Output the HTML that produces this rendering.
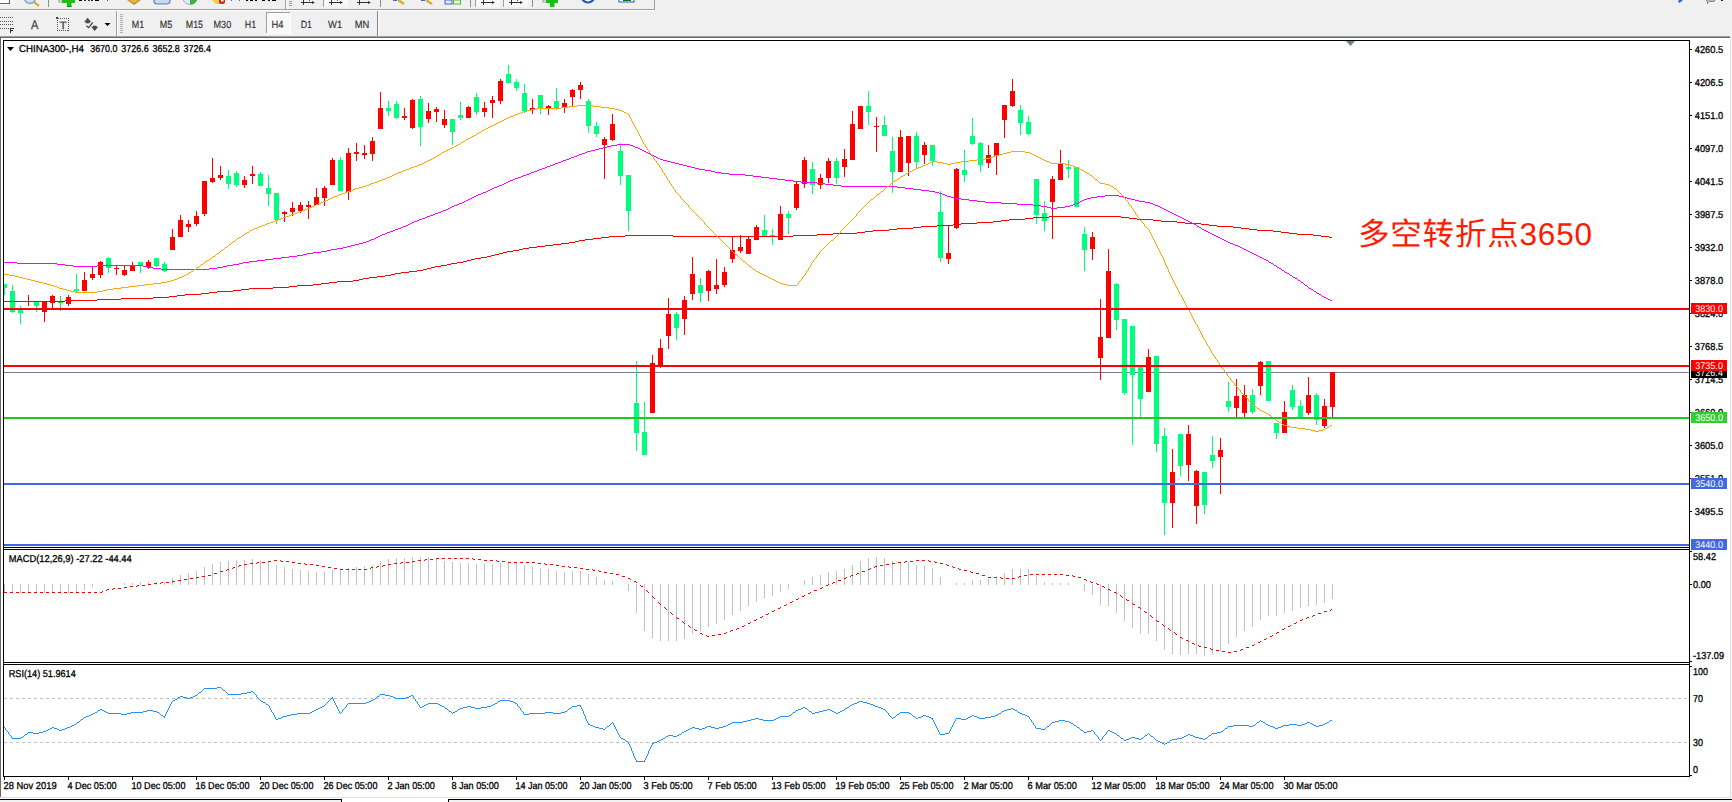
<!DOCTYPE html>
<html lang="zh"><head><meta charset="utf-8"><title>CHINA300-,H4</title>
<style>html,body{margin:0;padding:0;background:#f0f0f0;overflow:hidden}body{width:1732px;height:802px;position:relative}svg{position:absolute;left:0;top:0;display:block}text{font-family:"Liberation Sans","Noto Sans CJK SC",sans-serif;text-rendering:geometricPrecision}</style>
</head><body>
<svg width="1732" height="802" viewBox="0 0 1732 802">
<rect x="0" y="0" width="1732" height="802" fill="#f0f0f0" />
<rect x="1" y="38" width="1729" height="760" fill="#ffffff" />
<rect x="0" y="36" width="1731" height="1" fill="#a0a0a0" />
<rect x="0" y="37" width="1731" height="1" fill="#696969" />
<rect x="0" y="38" width="1" height="760" fill="#696969" />
<rect x="1730" y="36" width="1" height="766" fill="#e3e3e3" />
<rect x="1731" y="36" width="1" height="766" fill="#f5f5f5" />
<rect x="0" y="797" width="1731" height="1" fill="#e3e3e3" />
<rect x="0" y="798" width="1730" height="4" fill="#ffffff" />
<rect x="0" y="799" width="342" height="1" fill="#000" />
<rect x="341" y="799" width="1" height="3" fill="#000" />
<rect x="448" y="799" width="1284" height="1" fill="#000" />
<rect x="448" y="799" width="1" height="3" fill="#000" />
<rect x="0" y="800" width="341" height="2" fill="#f0f0f0" />
<rect x="449" y="800" width="1283" height="2" fill="#f0f0f0" />
<g shape-rendering="crispEdges">
<rect x="3" y="40" width="1687" height="1" fill="#000" />
<rect x="3" y="40" width="1" height="737" fill="#000" />
<rect x="1689" y="40" width="1" height="737" fill="#000" />
<rect x="3" y="776" width="1687" height="1" fill="#000" />
<rect x="3" y="547" width="1687" height="1" fill="#000" />
<rect x="3" y="549" width="1687" height="1" fill="#000" />
<rect x="3" y="662" width="1687" height="1" fill="#000" />
<rect x="3" y="664" width="1687" height="1" fill="#000" />
<rect x="4" y="548" width="1685" height="1" fill="#fff" />
<rect x="4" y="663" width="1685" height="1" fill="#fff" />
<rect x="4" y="584" width="1" height="9" fill="#c0c0c0" />
<rect x="12" y="584" width="1" height="9" fill="#c0c0c0" />
<rect x="20" y="584" width="1" height="9" fill="#c0c0c0" />
<rect x="28" y="584" width="1" height="9" fill="#c0c0c0" />
<rect x="36" y="584" width="1" height="9" fill="#c0c0c0" />
<rect x="44" y="584" width="1" height="9" fill="#c0c0c0" />
<rect x="52" y="584" width="1" height="9" fill="#c0c0c0" />
<rect x="60" y="584" width="1" height="9" fill="#c0c0c0" />
<rect x="68" y="584" width="1" height="9" fill="#c0c0c0" />
<rect x="76" y="584" width="1" height="8" fill="#c0c0c0" />
<rect x="84" y="584" width="1" height="6" fill="#c0c0c0" />
<rect x="92" y="584" width="1" height="3" fill="#c0c0c0" />
<rect x="124" y="583" width="1" height="2" fill="#c0c0c0" />
<rect x="132" y="583" width="1" height="2" fill="#c0c0c0" />
<rect x="140" y="582" width="1" height="3" fill="#c0c0c0" />
<rect x="148" y="582" width="1" height="3" fill="#c0c0c0" />
<rect x="156" y="582" width="1" height="3" fill="#c0c0c0" />
<rect x="164" y="582" width="1" height="3" fill="#c0c0c0" />
<rect x="172" y="578" width="1" height="7" fill="#c0c0c0" />
<rect x="180" y="575" width="1" height="10" fill="#c0c0c0" />
<rect x="188" y="573" width="1" height="12" fill="#c0c0c0" />
<rect x="196" y="571" width="1" height="14" fill="#c0c0c0" />
<rect x="204" y="567" width="1" height="18" fill="#c0c0c0" />
<rect x="212" y="564" width="1" height="21" fill="#c0c0c0" />
<rect x="220" y="562" width="1" height="23" fill="#c0c0c0" />
<rect x="228" y="561" width="1" height="24" fill="#c0c0c0" />
<rect x="236" y="560" width="1" height="25" fill="#c0c0c0" />
<rect x="244" y="560" width="1" height="25" fill="#c0c0c0" />
<rect x="252" y="559" width="1" height="26" fill="#c0c0c0" />
<rect x="260" y="560" width="1" height="25" fill="#c0c0c0" />
<rect x="268" y="562" width="1" height="23" fill="#c0c0c0" />
<rect x="276" y="565" width="1" height="20" fill="#c0c0c0" />
<rect x="284" y="567" width="1" height="18" fill="#c0c0c0" />
<rect x="292" y="569" width="1" height="16" fill="#c0c0c0" />
<rect x="300" y="570" width="1" height="15" fill="#c0c0c0" />
<rect x="308" y="571" width="1" height="14" fill="#c0c0c0" />
<rect x="316" y="572" width="1" height="13" fill="#c0c0c0" />
<rect x="324" y="572" width="1" height="13" fill="#c0c0c0" />
<rect x="332" y="570" width="1" height="15" fill="#c0c0c0" />
<rect x="340" y="569" width="1" height="16" fill="#c0c0c0" />
<rect x="348" y="568" width="1" height="17" fill="#c0c0c0" />
<rect x="356" y="567" width="1" height="18" fill="#c0c0c0" />
<rect x="364" y="566" width="1" height="19" fill="#c0c0c0" />
<rect x="372" y="565" width="1" height="20" fill="#c0c0c0" />
<rect x="380" y="561" width="1" height="24" fill="#c0c0c0" />
<rect x="388" y="559" width="1" height="26" fill="#c0c0c0" />
<rect x="396" y="558" width="1" height="27" fill="#c0c0c0" />
<rect x="404" y="558" width="1" height="27" fill="#c0c0c0" />
<rect x="412" y="557" width="1" height="28" fill="#c0c0c0" />
<rect x="420" y="557" width="1" height="28" fill="#c0c0c0" />
<rect x="428" y="557" width="1" height="28" fill="#c0c0c0" />
<rect x="436" y="559" width="1" height="26" fill="#c0c0c0" />
<rect x="444" y="561" width="1" height="24" fill="#c0c0c0" />
<rect x="452" y="562" width="1" height="23" fill="#c0c0c0" />
<rect x="460" y="563" width="1" height="22" fill="#c0c0c0" />
<rect x="468" y="563" width="1" height="22" fill="#c0c0c0" />
<rect x="476" y="564" width="1" height="21" fill="#c0c0c0" />
<rect x="484" y="564" width="1" height="21" fill="#c0c0c0" />
<rect x="492" y="564" width="1" height="21" fill="#c0c0c0" />
<rect x="500" y="563" width="1" height="22" fill="#c0c0c0" />
<rect x="508" y="562" width="1" height="23" fill="#c0c0c0" />
<rect x="516" y="563" width="1" height="22" fill="#c0c0c0" />
<rect x="524" y="565" width="1" height="20" fill="#c0c0c0" />
<rect x="532" y="567" width="1" height="18" fill="#c0c0c0" />
<rect x="540" y="568" width="1" height="17" fill="#c0c0c0" />
<rect x="548" y="569" width="1" height="16" fill="#c0c0c0" />
<rect x="556" y="571" width="1" height="14" fill="#c0c0c0" />
<rect x="564" y="572" width="1" height="13" fill="#c0c0c0" />
<rect x="572" y="571" width="1" height="14" fill="#c0c0c0" />
<rect x="580" y="571" width="1" height="14" fill="#c0c0c0" />
<rect x="588" y="574" width="1" height="11" fill="#c0c0c0" />
<rect x="596" y="577" width="1" height="8" fill="#c0c0c0" />
<rect x="604" y="580" width="1" height="5" fill="#c0c0c0" />
<rect x="612" y="581" width="1" height="4" fill="#c0c0c0" />
<rect x="628" y="584" width="1" height="7" fill="#c0c0c0" />
<rect x="636" y="584" width="1" height="29" fill="#c0c0c0" />
<rect x="644" y="584" width="1" height="47" fill="#c0c0c0" />
<rect x="652" y="584" width="1" height="54" fill="#c0c0c0" />
<rect x="660" y="584" width="1" height="57" fill="#c0c0c0" />
<rect x="668" y="584" width="1" height="57" fill="#c0c0c0" />
<rect x="676" y="584" width="1" height="57" fill="#c0c0c0" />
<rect x="684" y="584" width="1" height="55" fill="#c0c0c0" />
<rect x="692" y="584" width="1" height="50" fill="#c0c0c0" />
<rect x="700" y="584" width="1" height="47" fill="#c0c0c0" />
<rect x="708" y="584" width="1" height="43" fill="#c0c0c0" />
<rect x="716" y="584" width="1" height="40" fill="#c0c0c0" />
<rect x="724" y="584" width="1" height="36" fill="#c0c0c0" />
<rect x="732" y="584" width="1" height="31" fill="#c0c0c0" />
<rect x="740" y="584" width="1" height="27" fill="#c0c0c0" />
<rect x="748" y="584" width="1" height="22" fill="#c0c0c0" />
<rect x="756" y="584" width="1" height="18" fill="#c0c0c0" />
<rect x="764" y="584" width="1" height="14" fill="#c0c0c0" />
<rect x="772" y="584" width="1" height="12" fill="#c0c0c0" />
<rect x="780" y="584" width="1" height="8" fill="#c0c0c0" />
<rect x="788" y="584" width="1" height="5" fill="#c0c0c0" />
<rect x="804" y="580" width="1" height="5" fill="#c0c0c0" />
<rect x="812" y="577" width="1" height="8" fill="#c0c0c0" />
<rect x="820" y="575" width="1" height="10" fill="#c0c0c0" />
<rect x="828" y="572" width="1" height="13" fill="#c0c0c0" />
<rect x="836" y="571" width="1" height="14" fill="#c0c0c0" />
<rect x="844" y="569" width="1" height="16" fill="#c0c0c0" />
<rect x="852" y="565" width="1" height="20" fill="#c0c0c0" />
<rect x="860" y="561" width="1" height="24" fill="#c0c0c0" />
<rect x="868" y="558" width="1" height="27" fill="#c0c0c0" />
<rect x="876" y="557" width="1" height="28" fill="#c0c0c0" />
<rect x="884" y="558" width="1" height="27" fill="#c0c0c0" />
<rect x="892" y="561" width="1" height="24" fill="#c0c0c0" />
<rect x="900" y="562" width="1" height="23" fill="#c0c0c0" />
<rect x="908" y="562" width="1" height="23" fill="#c0c0c0" />
<rect x="916" y="565" width="1" height="20" fill="#c0c0c0" />
<rect x="924" y="566" width="1" height="19" fill="#c0c0c0" />
<rect x="932" y="568" width="1" height="17" fill="#c0c0c0" />
<rect x="940" y="577" width="1" height="8" fill="#c0c0c0" />
<rect x="956" y="583" width="1" height="2" fill="#c0c0c0" />
<rect x="964" y="583" width="1" height="2" fill="#c0c0c0" />
<rect x="972" y="580" width="1" height="5" fill="#c0c0c0" />
<rect x="980" y="580" width="1" height="5" fill="#c0c0c0" />
<rect x="988" y="579" width="1" height="6" fill="#c0c0c0" />
<rect x="996" y="578" width="1" height="7" fill="#c0c0c0" />
<rect x="1004" y="573" width="1" height="12" fill="#c0c0c0" />
<rect x="1012" y="569" width="1" height="16" fill="#c0c0c0" />
<rect x="1020" y="569" width="1" height="16" fill="#c0c0c0" />
<rect x="1028" y="569" width="1" height="16" fill="#c0c0c0" />
<rect x="1036" y="576" width="1" height="9" fill="#c0c0c0" />
<rect x="1044" y="582" width="1" height="3" fill="#c0c0c0" />
<rect x="1052" y="583" width="1" height="2" fill="#c0c0c0" />
<rect x="1060" y="583" width="1" height="2" fill="#c0c0c0" />
<rect x="1068" y="583" width="1" height="2" fill="#c0c0c0" />
<rect x="1084" y="584" width="1" height="7" fill="#c0c0c0" />
<rect x="1092" y="584" width="1" height="11" fill="#c0c0c0" />
<rect x="1100" y="584" width="1" height="21" fill="#c0c0c0" />
<rect x="1108" y="584" width="1" height="22" fill="#c0c0c0" />
<rect x="1116" y="584" width="1" height="29" fill="#c0c0c0" />
<rect x="1124" y="584" width="1" height="37" fill="#c0c0c0" />
<rect x="1132" y="584" width="1" height="44" fill="#c0c0c0" />
<rect x="1140" y="584" width="1" height="50" fill="#c0c0c0" />
<rect x="1148" y="584" width="1" height="50" fill="#c0c0c0" />
<rect x="1156" y="584" width="1" height="57" fill="#c0c0c0" />
<rect x="1164" y="584" width="1" height="66" fill="#c0c0c0" />
<rect x="1172" y="584" width="1" height="70" fill="#c0c0c0" />
<rect x="1180" y="584" width="1" height="71" fill="#c0c0c0" />
<rect x="1188" y="584" width="1" height="70" fill="#c0c0c0" />
<rect x="1196" y="584" width="1" height="70" fill="#c0c0c0" />
<rect x="1204" y="584" width="1" height="72" fill="#c0c0c0" />
<rect x="1212" y="584" width="1" height="70" fill="#c0c0c0" />
<rect x="1220" y="584" width="1" height="67" fill="#c0c0c0" />
<rect x="1228" y="584" width="1" height="60" fill="#c0c0c0" />
<rect x="1236" y="584" width="1" height="53" fill="#c0c0c0" />
<rect x="1244" y="584" width="1" height="47" fill="#c0c0c0" />
<rect x="1252" y="584" width="1" height="43" fill="#c0c0c0" />
<rect x="1260" y="584" width="1" height="36" fill="#c0c0c0" />
<rect x="1268" y="584" width="1" height="32" fill="#c0c0c0" />
<rect x="1276" y="584" width="1" height="32" fill="#c0c0c0" />
<rect x="1284" y="584" width="1" height="29" fill="#c0c0c0" />
<rect x="1292" y="584" width="1" height="27" fill="#c0c0c0" />
<rect x="1300" y="584" width="1" height="24" fill="#c0c0c0" />
<rect x="1308" y="584" width="1" height="22" fill="#c0c0c0" />
<rect x="1316" y="584" width="1" height="21" fill="#c0c0c0" />
<rect x="1324" y="584" width="1" height="19" fill="#c0c0c0" />
<rect x="1332" y="584" width="1" height="15" fill="#c0c0c0" />
</g>
<path d="M436 558.5h3M442 558.5h3M448 558.5h3M454 558.5h3M460 558.5h3M466 558.5h3M472 558.5h1M425 559.5h2M430 559.5h3M473 559.5h2M478 559.5h3M274 560.5h3M280 560.5h1M418 560.5h3M424 560.5h1M484 560.5h3M490 560.5h3M496 560.5h1M916 560.5h3M922 560.5h3M928 560.5h1M268 561.5h3M281 561.5h2M286 561.5h3M412 561.5h3M497 561.5h2M502 561.5h3M905 561.5h2M910 561.5h3M929 561.5h2M934 561.5h1M257 562.5h2M262 562.5h3M292 562.5h3M401 562.5h2M406 562.5h3M508 562.5h3M514 562.5h3M520 562.5h3M526 562.5h3M532 562.5h3M898 562.5h3M904 562.5h1M935 562.5h2M250 563.5h3M256 563.5h1M298 563.5h3M304 563.5h1M394 563.5h3M400 563.5h1M538 563.5h3M544 563.5h1M892 563.5h3M940 563.5h3M244 564.5h3M305 564.5h2M310 564.5h3M388 564.5h3M545 564.5h2M550 564.5h3M886 564.5h3M946 564.5h1M239 565.5h2M316 565.5h3M383 565.5h2M556 565.5h3M880 565.5h3M947 565.5h2M238 566.5h1M322 566.5h3M377 566.5h2M382 566.5h1M562 566.5h3M568 566.5h1M875 566.5h2M952 566.5h1M233 567.5h2M328 567.5h3M371 567.5h2M376 567.5h1M569 567.5h2M574 567.5h3M874 567.5h1M953 567.5h2M232 568.5h1M334 568.5h3M370 568.5h1M580 568.5h3M870 568.5h1M958 568.5h1M227 569.5h2M340 569.5h3M346 569.5h3M352 569.5h3M358 569.5h3M364 569.5h3M586 569.5h3M592 569.5h1M868 569.5h2M959 569.5h2M226 570.5h1M593 570.5h2M598 570.5h1M964 570.5h3M220 571.5h3M599 571.5h2M862 571.5h3M970 571.5h1M604 572.5h3M971 572.5h2M214 573.5h3M610 573.5h3M857 573.5h2M976 573.5h3M616 574.5h3M856 574.5h1M1030 574.5h3M1036 574.5h3M1042 574.5h3M1048 574.5h3M1054 574.5h3M1060 574.5h3M208 575.5h3M851 575.5h2M982 575.5h3M1024 575.5h3M1066 575.5h3M1072 575.5h1M202 576.5h3M622 576.5h3M850 576.5h1M1019 576.5h2M1073 576.5h2M196 577.5h3M846 577.5h1M988 577.5h3M994 577.5h3M1000 577.5h1M1018 577.5h1M1078 577.5h3M190 578.5h3M628 578.5h2M844 578.5h2M1001 578.5h2M1006 578.5h3M1012 578.5h3M184 579.5h3M630 579.5h1M1084 579.5h2M178 580.5h3M838 580.5h3M1086 580.5h1M172 581.5h3M634 581.5h2M1090 581.5h1M161 582.5h2M166 582.5h3M636 582.5h1M833 582.5h2M1091 582.5h2M154 583.5h3M160 583.5h1M832 583.5h1M1096 583.5h1M148 584.5h3M828 584.5h1M1097 584.5h2M137 585.5h2M142 585.5h3M640 585.5h1M826 585.5h2M130 586.5h3M136 586.5h1M641 586.5h2M1102 586.5h2M124 587.5h3M822 587.5h1M1104 587.5h1M113 588.5h2M118 588.5h3M820 588.5h2M107 589.5h2M112 589.5h1M1108 589.5h2M106 590.5h1M646 590.5h1M814 590.5h3M1110 590.5h1M102 591.5h1M647 591.5h1M4 592.5h3M10 592.5h3M16 592.5h3M22 592.5h3M28 592.5h3M34 592.5h3M40 592.5h3M46 592.5h3M52 592.5h3M58 592.5h3M64 592.5h3M70 592.5h3M76 592.5h3M82 592.5h3M88 592.5h3M94 592.5h3M100 592.5h2M648 592.5h1M810 592.5h1M1114 592.5h2M808 593.5h2M1116 593.5h1M804 595.5h1M1120 595.5h1M652 596.5h1M802 596.5h2M1121 596.5h1M653 597.5h1M1122 597.5h1M654 598.5h1M798 598.5h1M796 599.5h2M1126 599.5h1M1127 600.5h2M792 601.5h1M658 602.5h1M790 602.5h2M659 603.5h1M1132 603.5h1M660 604.5h1M786 604.5h1M1133 604.5h2M784 605.5h2M664 607.5h1M780 607.5h1M1138 607.5h2M665 608.5h1M778 608.5h2M1140 608.5h1M666 609.5h1M1331 609.5h1M774 610.5h1M1330 610.5h1M772 611.5h2M1144 611.5h1M1324 611.5h3M670 612.5h1M1145 612.5h2M671 613.5h1M768 613.5h1M1318 613.5h3M672 614.5h1M766 614.5h2M1150 615.5h1M1313 615.5h2M762 616.5h1M1151 616.5h1M1312 616.5h1M676 617.5h1M760 617.5h2M1152 617.5h1M1307 617.5h2M677 618.5h2M1306 618.5h1M756 619.5h1M1302 619.5h1M754 620.5h2M1156 620.5h1M1300 620.5h2M682 621.5h1M1157 621.5h2M683 622.5h1M750 622.5h1M1296 622.5h1M684 623.5h1M748 623.5h2M1294 623.5h2M1162 624.5h1M688 625.5h1M744 625.5h1M1163 625.5h1M1290 625.5h1M689 626.5h1M742 626.5h2M1164 626.5h1M1288 626.5h2M690 627.5h1M737 628.5h2M1168 628.5h1M1284 628.5h1M694 629.5h1M736 629.5h1M1169 629.5h1M1282 629.5h2M695 630.5h2M731 630.5h2M1170 630.5h1M730 631.5h1M726 632.5h1M1174 632.5h1M1277 632.5h2M700 633.5h2M724 633.5h2M1175 633.5h1M1276 633.5h1M702 634.5h1M718 634.5h3M1176 634.5h1M706 635.5h1M712 635.5h3M1272 635.5h1M707 636.5h2M1270 636.5h2M1180 637.5h2M1182 638.5h1M1266 638.5h1M1264 639.5h2M1186 640.5h2M1188 641.5h1M1260 641.5h1M1258 642.5h2M1192 643.5h2M1194 644.5h1M1254 644.5h1M1198 645.5h1M1252 645.5h2M1199 646.5h2M1204 647.5h3M1246 647.5h3M1210 648.5h1M1211 649.5h2M1241 649.5h2M1216 650.5h3M1240 650.5h1M1222 651.5h3M1234 651.5h3M1228 652.5h3" fill="none" stroke="#ff0000" stroke-width="1" shape-rendering="crispEdges"/>
<g shape-rendering="crispEdges">
<line x1="4" y1="698.5" x2="1689" y2="698.5" stroke="#c0c0c0" stroke-width="1" stroke-dasharray="3,3"/>
<line x1="4" y1="742.5" x2="1689" y2="742.5" stroke="#c0c0c0" stroke-width="1" stroke-dasharray="3,3"/>
</g>
<path d="M217 687.5h4M204 688.5h13M221 688.5h1M203 689.5h1M222 689.5h1M202 690.5h1M223 690.5h2M201 691.5h1M225 691.5h1M251 691.5h2M199 692.5h2M226 692.5h1M247 692.5h4M253 692.5h1M198 693.5h1M227 693.5h1M241 693.5h6M254 693.5h1M197 694.5h1M228 694.5h13M255 694.5h1M380 694.5h5M195 695.5h2M256 695.5h1M379 695.5h1M385 695.5h5M411 695.5h2M180 696.5h3M193 696.5h2M256 696.5h1M377 696.5h2M390 696.5h3M409 696.5h2M413 696.5h1M178 697.5h2M183 697.5h4M190 697.5h3M257 697.5h1M332 697.5h1M376 697.5h1M393 697.5h2M406 697.5h3M413 697.5h1M177 698.5h1M187 698.5h3M258 698.5h1M331 698.5h2M375 698.5h1M395 698.5h11M414 698.5h1M175 699.5h2M259 699.5h1M330 699.5h1M333 699.5h1M373 699.5h2M415 699.5h1M173 700.5h2M260 700.5h1M329 700.5h1M333 700.5h1M371 700.5h2M415 700.5h1M500 700.5h10M172 701.5h1M261 701.5h2M328 701.5h1M334 701.5h1M369 701.5h2M416 701.5h1M498 701.5h2M510 701.5h3M859 701.5h4M171 702.5h1M263 702.5h2M327 702.5h1M334 702.5h1M366 702.5h3M417 702.5h1M497 702.5h1M513 702.5h2M857 702.5h2M863 702.5h4M171 703.5h1M265 703.5h1M326 703.5h1M335 703.5h1M348 703.5h18M417 703.5h1M428 703.5h10M495 703.5h2M515 703.5h2M854 703.5h3M867 703.5h3M170 704.5h1M266 704.5h2M325 704.5h1M335 704.5h1M347 704.5h1M418 704.5h1M426 704.5h2M438 704.5h2M493 704.5h2M517 704.5h1M852 704.5h2M870 704.5h3M170 705.5h1M268 705.5h1M324 705.5h1M336 705.5h1M346 705.5h1M419 705.5h1M424 705.5h2M440 705.5h2M491 705.5h2M517 705.5h1M577 705.5h4M850 705.5h2M873 705.5h2M169 706.5h1M269 706.5h1M322 706.5h2M336 706.5h1M346 706.5h1M419 706.5h1M422 706.5h2M442 706.5h2M467 706.5h4M487 706.5h4M518 706.5h1M572 706.5h5M580 706.5h1M849 706.5h1M875 706.5h3M169 707.5h1M269 707.5h1M320 707.5h2M337 707.5h1M345 707.5h1M420 707.5h2M444 707.5h1M463 707.5h4M471 707.5h4M481 707.5h6M519 707.5h1M571 707.5h1M581 707.5h1M803 707.5h2M847 707.5h2M878 707.5h3M168 708.5h1M270 708.5h1M318 708.5h2M337 708.5h1M344 708.5h1M445 708.5h2M460 708.5h3M475 708.5h6M520 708.5h1M569 708.5h2M581 708.5h1M801 708.5h2M805 708.5h2M845 708.5h2M881 708.5h2M1011 708.5h2M100 709.5h2M168 709.5h1M270 709.5h1M316 709.5h2M338 709.5h1M343 709.5h1M447 709.5h1M458 709.5h2M520 709.5h1M568 709.5h1M582 709.5h1M798 709.5h3M807 709.5h1M827 709.5h3M844 709.5h1M883 709.5h2M1007 709.5h4M1013 709.5h2M98 710.5h2M102 710.5h2M147 710.5h6M167 710.5h1M271 710.5h1M314 710.5h2M338 710.5h1M342 710.5h1M448 710.5h1M457 710.5h1M521 710.5h1M567 710.5h1M582 710.5h1M796 710.5h2M808 710.5h1M823 710.5h4M830 710.5h2M842 710.5h2M885 710.5h1M1004 710.5h3M1015 710.5h2M97 711.5h1M104 711.5h2M143 711.5h4M153 711.5h4M167 711.5h1M271 711.5h1M312 711.5h2M339 711.5h1M342 711.5h1M449 711.5h2M455 711.5h2M522 711.5h1M565 711.5h2M583 711.5h1M795 711.5h1M809 711.5h2M819 711.5h4M832 711.5h2M840 711.5h2M886 711.5h1M1002 711.5h2M1017 711.5h1M95 712.5h2M106 712.5h2M131 712.5h12M157 712.5h2M166 712.5h1M272 712.5h1M310 712.5h2M339 712.5h1M341 712.5h1M451 712.5h1M453 712.5h2M523 712.5h1M545 712.5h8M561 712.5h4M583 712.5h1M793 712.5h2M811 712.5h1M815 712.5h4M834 712.5h2M838 712.5h2M887 712.5h1M900 712.5h9M1001 712.5h1M1018 712.5h2M93 713.5h2M108 713.5h13M127 713.5h4M159 713.5h1M166 713.5h1M273 713.5h1M297 713.5h13M340 713.5h1M452 713.5h1M523 713.5h1M529 713.5h16M553 713.5h8M583 713.5h1M792 713.5h1M812 713.5h3M836 713.5h2M888 713.5h1M899 713.5h1M909 713.5h2M999 713.5h2M1020 713.5h2M91 714.5h2M121 714.5h6M160 714.5h1M165 714.5h1M273 714.5h1M291 714.5h6M524 714.5h5M584 714.5h1M791 714.5h1M888 714.5h1M897 714.5h2M911 714.5h1M997 714.5h2M1022 714.5h3M89 715.5h2M161 715.5h2M165 715.5h1M274 715.5h1M287 715.5h4M584 715.5h1M789 715.5h2M889 715.5h1M896 715.5h1M912 715.5h1M923 715.5h3M972 715.5h2M995 715.5h2M1025 715.5h2M86 716.5h3M163 716.5h2M274 716.5h1M283 716.5h4M585 716.5h1M780 716.5h9M890 716.5h1M895 716.5h1M913 716.5h2M921 716.5h2M926 716.5h3M970 716.5h2M974 716.5h3M991 716.5h4M1027 716.5h2M84 717.5h2M164 717.5h1M275 717.5h1M281 717.5h2M585 717.5h1M778 717.5h2M891 717.5h1M893 717.5h2M915 717.5h1M918 717.5h3M929 717.5h2M968 717.5h2M977 717.5h2M985 717.5h6M1029 717.5h1M83 718.5h1M275 718.5h1M278 718.5h3M585 718.5h1M755 718.5h4M776 718.5h2M892 718.5h1M916 718.5h2M931 718.5h2M956 718.5h5M966 718.5h2M979 718.5h6M1029 718.5h1M81 719.5h2M276 719.5h2M586 719.5h1M751 719.5h4M759 719.5h4M774 719.5h2M932 719.5h1M955 719.5h1M961 719.5h5M1030 719.5h1M80 720.5h1M586 720.5h1M747 720.5h4M763 720.5h11M933 720.5h1M955 720.5h1M1031 720.5h1M1059 720.5h6M1260 720.5h1M1330 720.5h2M79 721.5h1M587 721.5h1M743 721.5h4M933 721.5h1M954 721.5h1M1031 721.5h1M1055 721.5h4M1065 721.5h4M1259 721.5h1M1261 721.5h2M1329 721.5h1M77 722.5h2M587 722.5h1M612 722.5h1M732 722.5h11M934 722.5h1M954 722.5h1M1032 722.5h1M1052 722.5h3M1069 722.5h2M1257 722.5h2M1263 722.5h2M1307 722.5h3M1327 722.5h2M76 723.5h1M588 723.5h1M611 723.5h1M613 723.5h1M730 723.5h2M934 723.5h1M953 723.5h1M1033 723.5h1M1051 723.5h1M1071 723.5h2M1256 723.5h1M1265 723.5h1M1305 723.5h2M1310 723.5h2M1325 723.5h2M74 724.5h2M588 724.5h2M610 724.5h1M613 724.5h1M728 724.5h2M935 724.5h1M953 724.5h1M1033 724.5h1M1050 724.5h1M1073 724.5h1M1255 724.5h1M1266 724.5h2M1289 724.5h8M1302 724.5h3M1312 724.5h2M1323 724.5h2M72 725.5h2M590 725.5h3M609 725.5h1M614 725.5h1M726 725.5h2M935 725.5h1M952 725.5h1M1034 725.5h1M1049 725.5h1M1074 725.5h2M1233 725.5h16M1253 725.5h2M1268 725.5h2M1283 725.5h6M1297 725.5h5M1314 725.5h2M1319 725.5h4M70 726.5h2M593 726.5h2M607 726.5h2M614 726.5h1M707 726.5h4M723 726.5h3M936 726.5h1M952 726.5h1M1035 726.5h1M1047 726.5h2M1076 726.5h1M1228 726.5h5M1249 726.5h4M1270 726.5h3M1281 726.5h2M1316 726.5h3M4 727.5h1M52 727.5h2M67 727.5h3M595 727.5h4M606 727.5h1M615 727.5h1M692 727.5h3M705 727.5h2M711 727.5h4M719 727.5h4M936 727.5h1M951 727.5h1M1035 727.5h1M1046 727.5h1M1077 727.5h2M1227 727.5h1M1273 727.5h2M1278 727.5h3M5 728.5h1M50 728.5h2M54 728.5h3M65 728.5h2M599 728.5h4M605 728.5h1M615 728.5h1M690 728.5h2M695 728.5h4M702 728.5h3M715 728.5h4M937 728.5h1M951 728.5h1M1036 728.5h5M1045 728.5h1M1079 728.5h1M1225 728.5h2M1275 728.5h3M5 729.5h1M48 729.5h2M57 729.5h2M62 729.5h3M603 729.5h2M616 729.5h1M688 729.5h2M699 729.5h3M937 729.5h1M950 729.5h1M1041 729.5h4M1080 729.5h1M1224 729.5h1M6 730.5h1M46 730.5h2M59 730.5h3M616 730.5h1M686 730.5h2M938 730.5h1M950 730.5h1M1081 730.5h2M1091 730.5h2M1108 730.5h2M1223 730.5h1M7 731.5h1M43 731.5h3M617 731.5h1M684 731.5h2M938 731.5h1M949 731.5h1M1083 731.5h1M1087 731.5h4M1093 731.5h1M1107 731.5h1M1110 731.5h2M1221 731.5h2M8 732.5h1M28 732.5h5M39 732.5h4M617 732.5h1M682 732.5h2M939 732.5h1M949 732.5h1M1084 732.5h3M1094 732.5h1M1106 732.5h1M1112 732.5h2M1217 732.5h4M8 733.5h1M27 733.5h1M33 733.5h6M618 733.5h1M681 733.5h1M939 733.5h1M945 733.5h4M1094 733.5h1M1106 733.5h1M1114 733.5h2M1148 733.5h1M1212 733.5h5M9 734.5h1M25 734.5h2M618 734.5h1M679 734.5h2M940 734.5h5M1095 734.5h1M1105 734.5h1M1116 734.5h1M1147 734.5h1M1149 734.5h1M1188 734.5h2M1211 734.5h1M10 735.5h1M24 735.5h1M619 735.5h1M668 735.5h5M677 735.5h2M1096 735.5h1M1104 735.5h1M1117 735.5h2M1145 735.5h2M1150 735.5h1M1186 735.5h2M1190 735.5h3M1209 735.5h2M11 736.5h1M23 736.5h1M619 736.5h1M666 736.5h2M673 736.5h4M1097 736.5h1M1103 736.5h1M1119 736.5h1M1144 736.5h1M1151 736.5h2M1184 736.5h2M1193 736.5h2M1208 736.5h1M11 737.5h1M21 737.5h2M620 737.5h1M665 737.5h1M1098 737.5h1M1102 737.5h1M1120 737.5h1M1131 737.5h4M1143 737.5h1M1153 737.5h1M1182 737.5h2M1195 737.5h4M1207 737.5h1M12 738.5h9M621 738.5h2M663 738.5h2M1098 738.5h1M1102 738.5h1M1121 738.5h2M1129 738.5h2M1135 738.5h4M1141 738.5h2M1154 738.5h1M1177 738.5h5M1199 738.5h4M1205 738.5h2M623 739.5h2M661 739.5h2M1099 739.5h1M1101 739.5h1M1123 739.5h1M1126 739.5h3M1139 739.5h2M1155 739.5h1M1172 739.5h5M1203 739.5h2M625 740.5h1M659 740.5h2M1100 740.5h1M1124 740.5h2M1156 740.5h2M1170 740.5h2M626 741.5h2M657 741.5h2M1158 741.5h2M1169 741.5h1M628 742.5h1M654 742.5h3M1160 742.5h2M1167 742.5h2M628 743.5h1M652 743.5h2M1162 743.5h2M1165 743.5h2M629 744.5h1M652 744.5h1M1164 744.5h1M629 745.5h1M651 745.5h1M630 746.5h1M651 746.5h1M630 747.5h1M650 747.5h1M631 748.5h1M650 748.5h1M631 749.5h1M649 749.5h1M631 750.5h1M649 750.5h1M632 751.5h1M648 751.5h1M632 752.5h1M648 752.5h1M633 753.5h1M648 753.5h1M633 754.5h1M647 754.5h1M633 755.5h1M647 755.5h1M634 756.5h1M646 756.5h1M634 757.5h1M646 757.5h1M635 758.5h1M645 758.5h1M635 759.5h1M645 759.5h1M636 760.5h1M644 760.5h1M636 761.5h9" fill="none" stroke="#1e90ff" stroke-width="1" shape-rendering="crispEdges"/>
<clipPath id="mc"><rect x="4" y="41" width="1685" height="506"/></clipPath>
<g clip-path="url(#mc)">
<g shape-rendering="crispEdges">
<rect x="4" y="372" width="1685" height="1" fill="#708090" />
<rect x="4" y="284" width="1" height="11" fill="#00ff7f" />
<rect x="2" y="284" width="5" height="4" fill="#00ff7f" />
<rect x="12" y="285" width="1" height="28" fill="#00ff7f" />
<rect x="10" y="291" width="5" height="21" fill="#00ff7f" />
<rect x="20" y="306" width="1" height="18" fill="#00ff7f" />
<rect x="18" y="310" width="5" height="3" fill="#00ff7f" />
<rect x="28" y="295" width="1" height="11" fill="#ff0000" />
<rect x="26" y="301" width="5" height="1" fill="#ff0000" />
<rect x="36" y="302" width="1" height="10" fill="#00ff7f" />
<rect x="34" y="302" width="5" height="4" fill="#00ff7f" />
<rect x="44" y="301" width="1" height="21" fill="#ff0000" />
<rect x="42" y="301" width="5" height="11" fill="#ff0000" />
<rect x="52" y="295" width="1" height="13" fill="#ff0000" />
<rect x="50" y="296" width="5" height="7" fill="#ff0000" />
<rect x="60" y="296" width="1" height="15" fill="#22e022" />
<rect x="58" y="302" width="5" height="1" fill="#22e022" />
<rect x="68" y="295" width="1" height="11" fill="#ff0000" />
<rect x="66" y="297" width="5" height="7" fill="#ff0000" />
<rect x="76" y="274" width="1" height="18" fill="#00ff7f" />
<rect x="74" y="289" width="5" height="2" fill="#00ff7f" />
<rect x="84" y="272" width="1" height="19" fill="#ff0000" />
<rect x="82" y="280" width="5" height="11" fill="#ff0000" />
<rect x="92" y="267" width="1" height="13" fill="#ff0000" />
<rect x="90" y="274" width="5" height="4" fill="#ff0000" />
<rect x="100" y="261" width="1" height="17" fill="#ff0000" />
<rect x="98" y="262" width="5" height="13" fill="#ff0000" />
<rect x="108" y="257" width="1" height="16" fill="#00ff7f" />
<rect x="106" y="258" width="5" height="10" fill="#00ff7f" />
<rect x="116" y="265" width="1" height="10" fill="#ff0000" />
<rect x="114" y="268" width="5" height="1" fill="#ff0000" />
<rect x="124" y="266" width="1" height="10" fill="#ff0000" />
<rect x="122" y="270" width="5" height="5" fill="#ff0000" />
<rect x="132" y="262" width="1" height="9" fill="#ff0000" />
<rect x="130" y="266" width="5" height="5" fill="#ff0000" />
<rect x="140" y="262" width="1" height="11" fill="#00ff7f" />
<rect x="138" y="262" width="5" height="4" fill="#00ff7f" />
<rect x="148" y="260" width="1" height="9" fill="#ff0000" />
<rect x="146" y="262" width="5" height="5" fill="#ff0000" />
<rect x="156" y="258" width="1" height="9" fill="#00ff7f" />
<rect x="154" y="258" width="5" height="8" fill="#00ff7f" />
<rect x="164" y="262" width="1" height="10" fill="#00ff7f" />
<rect x="162" y="264" width="5" height="7" fill="#00ff7f" />
<rect x="172" y="229" width="1" height="21" fill="#ff0000" />
<rect x="170" y="237" width="5" height="13" fill="#ff0000" />
<rect x="180" y="215" width="1" height="22" fill="#ff0000" />
<rect x="178" y="220" width="5" height="17" fill="#ff0000" />
<rect x="188" y="220" width="1" height="12" fill="#ff0000" />
<rect x="186" y="224" width="5" height="3" fill="#ff0000" />
<rect x="196" y="211" width="1" height="15" fill="#ff0000" />
<rect x="194" y="216" width="5" height="8" fill="#ff0000" />
<rect x="204" y="181" width="1" height="35" fill="#ff0000" />
<rect x="202" y="181" width="5" height="33" fill="#ff0000" />
<rect x="212" y="158" width="1" height="25" fill="#ff0000" />
<rect x="210" y="178" width="5" height="4" fill="#ff0000" />
<rect x="220" y="166" width="1" height="14" fill="#ff0000" />
<rect x="218" y="175" width="5" height="3" fill="#ff0000" />
<rect x="228" y="170" width="1" height="19" fill="#00ff7f" />
<rect x="226" y="176" width="5" height="8" fill="#00ff7f" />
<rect x="236" y="171" width="1" height="16" fill="#00ff7f" />
<rect x="234" y="173" width="5" height="12" fill="#00ff7f" />
<rect x="244" y="176" width="1" height="12" fill="#ff0000" />
<rect x="242" y="180" width="5" height="5" fill="#ff0000" />
<rect x="252" y="166" width="1" height="18" fill="#ff0000" />
<rect x="250" y="174" width="5" height="2" fill="#ff0000" />
<rect x="260" y="172" width="1" height="14" fill="#00ff7f" />
<rect x="258" y="174" width="5" height="12" fill="#00ff7f" />
<rect x="268" y="175" width="1" height="31" fill="#00ff7f" />
<rect x="266" y="188" width="5" height="6" fill="#00ff7f" />
<rect x="276" y="193" width="1" height="31" fill="#00ff7f" />
<rect x="274" y="193" width="5" height="27" fill="#00ff7f" />
<rect x="284" y="211" width="1" height="11" fill="#ff0000" />
<rect x="282" y="212" width="5" height="2" fill="#ff0000" />
<rect x="292" y="202" width="1" height="14" fill="#ff0000" />
<rect x="290" y="208" width="5" height="4" fill="#ff0000" />
<rect x="300" y="202" width="1" height="11" fill="#ff0000" />
<rect x="298" y="205" width="5" height="6" fill="#ff0000" />
<rect x="308" y="201" width="1" height="18" fill="#ff0000" />
<rect x="306" y="205" width="5" height="2" fill="#ff0000" />
<rect x="316" y="188" width="1" height="17" fill="#ff0000" />
<rect x="314" y="197" width="5" height="8" fill="#ff0000" />
<rect x="324" y="186" width="1" height="20" fill="#ff0000" />
<rect x="322" y="188" width="5" height="10" fill="#ff0000" />
<rect x="332" y="158" width="1" height="27" fill="#ff0000" />
<rect x="330" y="160" width="5" height="25" fill="#ff0000" />
<rect x="340" y="157" width="1" height="34" fill="#00ff7f" />
<rect x="338" y="160" width="5" height="31" fill="#00ff7f" />
<rect x="348" y="148" width="1" height="52" fill="#ff0000" />
<rect x="346" y="153" width="5" height="39" fill="#ff0000" />
<rect x="356" y="143" width="1" height="18" fill="#ff0000" />
<rect x="354" y="152" width="5" height="2" fill="#ff0000" />
<rect x="364" y="145" width="1" height="14" fill="#ff0000" />
<rect x="362" y="153" width="5" height="2" fill="#ff0000" />
<rect x="372" y="137" width="1" height="24" fill="#ff0000" />
<rect x="370" y="141" width="5" height="13" fill="#ff0000" />
<rect x="380" y="92" width="1" height="37" fill="#ff0000" />
<rect x="378" y="108" width="5" height="21" fill="#ff0000" />
<rect x="388" y="101" width="1" height="15" fill="#00ff7f" />
<rect x="386" y="108" width="5" height="3" fill="#00ff7f" />
<rect x="396" y="101" width="1" height="18" fill="#00ff7f" />
<rect x="394" y="104" width="5" height="14" fill="#00ff7f" />
<rect x="404" y="108" width="1" height="12" fill="#ff0000" />
<rect x="402" y="116" width="5" height="2" fill="#ff0000" />
<rect x="412" y="99" width="1" height="30" fill="#ff0000" />
<rect x="410" y="100" width="5" height="28" fill="#ff0000" />
<rect x="420" y="96" width="1" height="50" fill="#00ff7f" />
<rect x="418" y="99" width="5" height="28" fill="#00ff7f" />
<rect x="428" y="103" width="1" height="20" fill="#ff0000" />
<rect x="426" y="111" width="5" height="8" fill="#ff0000" />
<rect x="436" y="107" width="1" height="15" fill="#ff0000" />
<rect x="434" y="109" width="5" height="3" fill="#ff0000" />
<rect x="444" y="110" width="1" height="18" fill="#ff0000" />
<rect x="442" y="119" width="5" height="6" fill="#ff0000" />
<rect x="452" y="119" width="1" height="26" fill="#00ff7f" />
<rect x="450" y="119" width="5" height="13" fill="#00ff7f" />
<rect x="460" y="102" width="1" height="18" fill="#00ff7f" />
<rect x="458" y="115" width="5" height="3" fill="#00ff7f" />
<rect x="468" y="106" width="1" height="12" fill="#ff0000" />
<rect x="466" y="107" width="5" height="11" fill="#ff0000" />
<rect x="476" y="93" width="1" height="22" fill="#00ff7f" />
<rect x="474" y="97" width="5" height="15" fill="#00ff7f" />
<rect x="484" y="102" width="1" height="15" fill="#ff0000" />
<rect x="482" y="108" width="5" height="4" fill="#ff0000" />
<rect x="492" y="96" width="1" height="22" fill="#ff0000" />
<rect x="490" y="100" width="5" height="3" fill="#ff0000" />
<rect x="500" y="79" width="1" height="25" fill="#ff0000" />
<rect x="498" y="81" width="5" height="20" fill="#ff0000" />
<rect x="508" y="65" width="1" height="18" fill="#00ff7f" />
<rect x="506" y="74" width="5" height="9" fill="#00ff7f" />
<rect x="516" y="79" width="1" height="12" fill="#00ff7f" />
<rect x="514" y="82" width="5" height="6" fill="#00ff7f" />
<rect x="524" y="84" width="1" height="29" fill="#00ff7f" />
<rect x="522" y="93" width="5" height="18" fill="#00ff7f" />
<rect x="532" y="99" width="1" height="15" fill="#ff0000" />
<rect x="530" y="108" width="5" height="2" fill="#ff0000" />
<rect x="540" y="95" width="1" height="19" fill="#00ff7f" />
<rect x="538" y="95" width="5" height="14" fill="#00ff7f" />
<rect x="548" y="105" width="1" height="10" fill="#ff0000" />
<rect x="546" y="106" width="5" height="3" fill="#ff0000" />
<rect x="556" y="88" width="1" height="22" fill="#00ff7f" />
<rect x="554" y="101" width="5" height="8" fill="#00ff7f" />
<rect x="564" y="99" width="1" height="14" fill="#ff0000" />
<rect x="562" y="103" width="5" height="4" fill="#ff0000" />
<rect x="572" y="89" width="1" height="18" fill="#ff0000" />
<rect x="570" y="90" width="5" height="7" fill="#ff0000" />
<rect x="580" y="82" width="1" height="17" fill="#ff0000" />
<rect x="578" y="85" width="5" height="5" fill="#ff0000" />
<rect x="588" y="99" width="1" height="34" fill="#00ff7f" />
<rect x="586" y="101" width="5" height="25" fill="#00ff7f" />
<rect x="596" y="122" width="1" height="15" fill="#00ff7f" />
<rect x="594" y="126" width="5" height="8" fill="#00ff7f" />
<rect x="604" y="137" width="1" height="42" fill="#ff0000" />
<rect x="602" y="139" width="5" height="6" fill="#ff0000" />
<rect x="612" y="114" width="1" height="27" fill="#ff0000" />
<rect x="610" y="124" width="5" height="16" fill="#ff0000" />
<rect x="620" y="143" width="1" height="42" fill="#00ff7f" />
<rect x="618" y="151" width="5" height="25" fill="#00ff7f" />
<rect x="628" y="175" width="1" height="56" fill="#00ff7f" />
<rect x="626" y="175" width="5" height="36" fill="#00ff7f" />
<rect x="636" y="361" width="1" height="90" fill="#00ff7f" />
<rect x="634" y="403" width="5" height="30" fill="#00ff7f" />
<rect x="644" y="402" width="1" height="53" fill="#00ff7f" />
<rect x="642" y="432" width="5" height="23" fill="#00ff7f" />
<rect x="652" y="355" width="1" height="58" fill="#ff0000" />
<rect x="650" y="363" width="5" height="50" fill="#ff0000" />
<rect x="660" y="339" width="1" height="29" fill="#ff0000" />
<rect x="658" y="348" width="5" height="18" fill="#ff0000" />
<rect x="668" y="298" width="1" height="51" fill="#ff0000" />
<rect x="666" y="314" width="5" height="22" fill="#ff0000" />
<rect x="676" y="312" width="1" height="28" fill="#00ff7f" />
<rect x="674" y="314" width="5" height="14" fill="#00ff7f" />
<rect x="684" y="296" width="1" height="39" fill="#ff0000" />
<rect x="682" y="300" width="5" height="19" fill="#ff0000" />
<rect x="692" y="257" width="1" height="43" fill="#ff0000" />
<rect x="690" y="274" width="5" height="20" fill="#ff0000" />
<rect x="700" y="278" width="1" height="24" fill="#00ff7f" />
<rect x="698" y="285" width="5" height="8" fill="#00ff7f" />
<rect x="708" y="270" width="1" height="31" fill="#ff0000" />
<rect x="706" y="271" width="5" height="20" fill="#ff0000" />
<rect x="716" y="259" width="1" height="35" fill="#ff0000" />
<rect x="714" y="285" width="5" height="4" fill="#ff0000" />
<rect x="724" y="267" width="1" height="20" fill="#ff0000" />
<rect x="722" y="272" width="5" height="13" fill="#ff0000" />
<rect x="732" y="237" width="1" height="26" fill="#ff0000" />
<rect x="730" y="250" width="5" height="9" fill="#ff0000" />
<rect x="740" y="235" width="1" height="18" fill="#ff0000" />
<rect x="738" y="247" width="5" height="4" fill="#ff0000" />
<rect x="748" y="237" width="1" height="17" fill="#ff0000" />
<rect x="746" y="239" width="5" height="15" fill="#ff0000" />
<rect x="756" y="225" width="1" height="15" fill="#ff0000" />
<rect x="754" y="227" width="5" height="13" fill="#ff0000" />
<rect x="764" y="215" width="1" height="21" fill="#00ff7f" />
<rect x="762" y="230" width="5" height="6" fill="#00ff7f" />
<rect x="772" y="229" width="1" height="16" fill="#00ff7f" />
<rect x="770" y="235" width="5" height="1" fill="#00ff7f" />
<rect x="780" y="206" width="1" height="34" fill="#ff0000" />
<rect x="778" y="214" width="5" height="26" fill="#ff0000" />
<rect x="788" y="211" width="1" height="23" fill="#00ff7f" />
<rect x="786" y="214" width="5" height="4" fill="#00ff7f" />
<rect x="796" y="181" width="1" height="29" fill="#ff0000" />
<rect x="794" y="184" width="5" height="24" fill="#ff0000" />
<rect x="804" y="157" width="1" height="31" fill="#ff0000" />
<rect x="802" y="160" width="5" height="24" fill="#ff0000" />
<rect x="812" y="162" width="1" height="32" fill="#00ff7f" />
<rect x="810" y="169" width="5" height="16" fill="#00ff7f" />
<rect x="820" y="174" width="1" height="15" fill="#ff0000" />
<rect x="818" y="178" width="5" height="7" fill="#ff0000" />
<rect x="828" y="158" width="1" height="25" fill="#ff0000" />
<rect x="826" y="161" width="5" height="17" fill="#ff0000" />
<rect x="836" y="158" width="1" height="26" fill="#00ff7f" />
<rect x="834" y="161" width="5" height="17" fill="#00ff7f" />
<rect x="844" y="149" width="1" height="28" fill="#ff0000" />
<rect x="842" y="159" width="5" height="8" fill="#ff0000" />
<rect x="852" y="111" width="1" height="49" fill="#ff0000" />
<rect x="850" y="124" width="5" height="36" fill="#ff0000" />
<rect x="860" y="106" width="1" height="23" fill="#ff0000" />
<rect x="858" y="106" width="5" height="23" fill="#ff0000" />
<rect x="868" y="91" width="1" height="34" fill="#00ff7f" />
<rect x="866" y="106" width="5" height="6" fill="#00ff7f" />
<rect x="876" y="117" width="1" height="35" fill="#ff0000" />
<rect x="874" y="126" width="5" height="1" fill="#ff0000" />
<rect x="884" y="116" width="1" height="20" fill="#00ff7f" />
<rect x="882" y="125" width="5" height="11" fill="#00ff7f" />
<rect x="892" y="137" width="1" height="56" fill="#00ff7f" />
<rect x="890" y="151" width="5" height="21" fill="#00ff7f" />
<rect x="900" y="130" width="1" height="42" fill="#ff0000" />
<rect x="898" y="137" width="5" height="35" fill="#ff0000" />
<rect x="908" y="136" width="1" height="40" fill="#ff0000" />
<rect x="906" y="136" width="5" height="27" fill="#ff0000" />
<rect x="916" y="132" width="1" height="37" fill="#00ff7f" />
<rect x="914" y="136" width="5" height="26" fill="#00ff7f" />
<rect x="924" y="142" width="1" height="22" fill="#ff0000" />
<rect x="922" y="145" width="5" height="10" fill="#ff0000" />
<rect x="932" y="145" width="1" height="21" fill="#00ff7f" />
<rect x="930" y="145" width="5" height="16" fill="#00ff7f" />
<rect x="940" y="191" width="1" height="71" fill="#00ff7f" />
<rect x="938" y="212" width="5" height="46" fill="#00ff7f" />
<rect x="948" y="225" width="1" height="39" fill="#ff0000" />
<rect x="946" y="253" width="5" height="6" fill="#ff0000" />
<rect x="956" y="168" width="1" height="61" fill="#ff0000" />
<rect x="954" y="169" width="5" height="59" fill="#ff0000" />
<rect x="964" y="150" width="1" height="32" fill="#00ff7f" />
<rect x="962" y="170" width="5" height="5" fill="#00ff7f" />
<rect x="972" y="118" width="1" height="27" fill="#00ff7f" />
<rect x="970" y="136" width="5" height="8" fill="#00ff7f" />
<rect x="980" y="142" width="1" height="30" fill="#00ff7f" />
<rect x="978" y="143" width="5" height="22" fill="#00ff7f" />
<rect x="988" y="145" width="1" height="23" fill="#ff0000" />
<rect x="986" y="155" width="5" height="8" fill="#ff0000" />
<rect x="996" y="143" width="1" height="32" fill="#ff0000" />
<rect x="994" y="143" width="5" height="13" fill="#ff0000" />
<rect x="1004" y="105" width="1" height="33" fill="#ff0000" />
<rect x="1002" y="105" width="5" height="15" fill="#ff0000" />
<rect x="1012" y="79" width="1" height="28" fill="#ff0000" />
<rect x="1010" y="91" width="5" height="15" fill="#ff0000" />
<rect x="1020" y="105" width="1" height="30" fill="#00ff7f" />
<rect x="1018" y="110" width="5" height="13" fill="#00ff7f" />
<rect x="1028" y="116" width="1" height="19" fill="#00ff7f" />
<rect x="1026" y="122" width="5" height="12" fill="#00ff7f" />
<rect x="1036" y="179" width="1" height="45" fill="#00ff7f" />
<rect x="1034" y="179" width="5" height="36" fill="#00ff7f" />
<rect x="1044" y="201" width="1" height="30" fill="#00ff7f" />
<rect x="1042" y="213" width="5" height="8" fill="#00ff7f" />
<rect x="1052" y="176" width="1" height="63" fill="#ff0000" />
<rect x="1050" y="179" width="5" height="23" fill="#ff0000" />
<rect x="1060" y="150" width="1" height="30" fill="#ff0000" />
<rect x="1058" y="164" width="5" height="16" fill="#ff0000" />
<rect x="1068" y="160" width="1" height="18" fill="#00ff7f" />
<rect x="1066" y="167" width="5" height="2" fill="#00ff7f" />
<rect x="1076" y="167" width="1" height="40" fill="#00ff7f" />
<rect x="1074" y="167" width="5" height="40" fill="#00ff7f" />
<rect x="1084" y="227" width="1" height="44" fill="#00ff7f" />
<rect x="1082" y="234" width="5" height="16" fill="#00ff7f" />
<rect x="1092" y="232" width="1" height="28" fill="#ff0000" />
<rect x="1090" y="237" width="5" height="12" fill="#ff0000" />
<rect x="1100" y="299" width="1" height="81" fill="#ff0000" />
<rect x="1098" y="337" width="5" height="21" fill="#ff0000" />
<rect x="1108" y="249" width="1" height="89" fill="#ff0000" />
<rect x="1106" y="271" width="5" height="67" fill="#ff0000" />
<rect x="1116" y="283" width="1" height="47" fill="#00ff7f" />
<rect x="1114" y="284" width="5" height="36" fill="#00ff7f" />
<rect x="1124" y="319" width="1" height="76" fill="#00ff7f" />
<rect x="1122" y="319" width="5" height="74" fill="#00ff7f" />
<rect x="1132" y="326" width="1" height="119" fill="#00ff7f" />
<rect x="1130" y="326" width="5" height="49" fill="#00ff7f" />
<rect x="1140" y="366" width="1" height="51" fill="#00ff7f" />
<rect x="1138" y="366" width="5" height="33" fill="#00ff7f" />
<rect x="1148" y="349" width="1" height="43" fill="#ff0000" />
<rect x="1146" y="357" width="5" height="35" fill="#ff0000" />
<rect x="1156" y="356" width="1" height="96" fill="#00ff7f" />
<rect x="1154" y="356" width="5" height="88" fill="#00ff7f" />
<rect x="1164" y="428" width="1" height="107" fill="#00ff7f" />
<rect x="1162" y="436" width="5" height="67" fill="#00ff7f" />
<rect x="1172" y="449" width="1" height="79" fill="#ff0000" />
<rect x="1170" y="472" width="5" height="31" fill="#ff0000" />
<rect x="1180" y="434" width="1" height="42" fill="#00ff7f" />
<rect x="1178" y="434" width="5" height="32" fill="#00ff7f" />
<rect x="1188" y="425" width="1" height="56" fill="#ff0000" />
<rect x="1186" y="434" width="5" height="31" fill="#ff0000" />
<rect x="1196" y="470" width="1" height="54" fill="#ff0000" />
<rect x="1194" y="471" width="5" height="35" fill="#ff0000" />
<rect x="1204" y="472" width="1" height="42" fill="#00ff7f" />
<rect x="1202" y="472" width="5" height="33" fill="#00ff7f" />
<rect x="1212" y="436" width="1" height="32" fill="#00ff7f" />
<rect x="1210" y="455" width="5" height="6" fill="#00ff7f" />
<rect x="1220" y="438" width="1" height="56" fill="#ff0000" />
<rect x="1218" y="450" width="5" height="7" fill="#ff0000" />
<rect x="1228" y="382" width="1" height="30" fill="#00ff7f" />
<rect x="1226" y="401" width="5" height="6" fill="#00ff7f" />
<rect x="1236" y="379" width="1" height="38" fill="#ff0000" />
<rect x="1234" y="396" width="5" height="12" fill="#ff0000" />
<rect x="1244" y="385" width="1" height="32" fill="#ff0000" />
<rect x="1242" y="395" width="5" height="18" fill="#ff0000" />
<rect x="1252" y="389" width="1" height="25" fill="#00ff7f" />
<rect x="1250" y="395" width="5" height="17" fill="#00ff7f" />
<rect x="1260" y="361" width="1" height="34" fill="#ff0000" />
<rect x="1258" y="362" width="5" height="24" fill="#ff0000" />
<rect x="1268" y="361" width="1" height="40" fill="#00ff7f" />
<rect x="1266" y="361" width="5" height="40" fill="#00ff7f" />
<rect x="1276" y="423" width="1" height="16" fill="#00ff7f" />
<rect x="1274" y="423" width="5" height="10" fill="#00ff7f" />
<rect x="1284" y="401" width="1" height="32" fill="#ff0000" />
<rect x="1282" y="412" width="5" height="21" fill="#ff0000" />
<rect x="1292" y="385" width="1" height="25" fill="#00ff7f" />
<rect x="1290" y="390" width="5" height="17" fill="#00ff7f" />
<rect x="1300" y="400" width="1" height="17" fill="#00ff7f" />
<rect x="1298" y="406" width="5" height="11" fill="#00ff7f" />
<rect x="1308" y="377" width="1" height="38" fill="#ff0000" />
<rect x="1306" y="395" width="5" height="18" fill="#ff0000" />
<rect x="1316" y="393" width="1" height="32" fill="#00ff7f" />
<rect x="1314" y="395" width="5" height="25" fill="#00ff7f" />
<rect x="1324" y="399" width="1" height="29" fill="#ff0000" />
<rect x="1322" y="406" width="5" height="20" fill="#ff0000" />
<rect x="1332" y="372" width="1" height="45" fill="#ff0000" />
<rect x="1330" y="372" width="5" height="35" fill="#ff0000" />
</g>
<path d="M1049 216.5h72M1033 217.5h16M1121 217.5h8M1025 218.5h8M1129 218.5h8M1009 219.5h16M1137 219.5h16M1001 220.5h8M1153 220.5h8M993 221.5h8M1161 221.5h16M977 222.5h16M1177 222.5h8M961 223.5h16M1185 223.5h16M953 224.5h8M1201 224.5h8M937 225.5h16M1209 225.5h8M921 226.5h16M1217 226.5h16M913 227.5h8M1233 227.5h8M897 228.5h16M1241 228.5h8M889 229.5h8M1249 229.5h8M873 230.5h16M1257 230.5h16M865 231.5h8M1273 231.5h8M857 232.5h8M1281 232.5h8M833 233.5h24M1289 233.5h8M817 234.5h16M1297 234.5h16M625 235.5h48M793 235.5h24M1313 235.5h8M609 236.5h16M673 236.5h120M1321 236.5h8M601 237.5h8M1329 237.5h3M593 238.5h8M585 239.5h8M579 240.5h6M575 241.5h4M569 242.5h6M561 243.5h8M553 244.5h8M545 245.5h8M537 246.5h8M529 247.5h8M523 248.5h6M519 249.5h4M513 250.5h6M507 251.5h6M503 252.5h4M499 253.5h4M495 254.5h4M491 255.5h4M487 256.5h4M481 257.5h6M475 258.5h6M471 259.5h4M467 260.5h4M463 261.5h4M457 262.5h6M451 263.5h6M447 264.5h4M441 265.5h6M435 266.5h6M431 267.5h4M427 268.5h4M423 269.5h4M417 270.5h6M409 271.5h8M401 272.5h8M395 273.5h6M391 274.5h4M385 275.5h6M377 276.5h8M369 277.5h8M363 278.5h6M359 279.5h4M353 280.5h6M337 281.5h16M329 282.5h8M321 283.5h8M313 284.5h8M297 285.5h16M289 286.5h8M273 287.5h16M249 288.5h24M241 289.5h8M233 290.5h8M217 291.5h16M209 292.5h8M201 293.5h8M185 294.5h16M177 295.5h8M169 296.5h8M153 297.5h16M121 298.5h32M97 299.5h24M65 300.5h32M4 301.5h61" fill="none" stroke="#ff0000" stroke-width="1" shape-rendering="crispEdges"/>
<path d="M617 144.5h13M611 145.5h6M630 145.5h3M607 146.5h4M633 146.5h2M603 147.5h4M635 147.5h3M599 148.5h4M638 148.5h2M595 149.5h4M640 149.5h2M591 150.5h4M642 150.5h2M587 151.5h4M644 151.5h2M585 152.5h2M646 152.5h2M582 153.5h3M648 153.5h2M579 154.5h3M650 154.5h2M577 155.5h2M652 155.5h2M574 156.5h3M654 156.5h2M571 157.5h3M656 157.5h2M569 158.5h2M658 158.5h2M566 159.5h3M660 159.5h3M563 160.5h3M663 160.5h4M561 161.5h2M667 161.5h4M558 162.5h3M671 162.5h4M555 163.5h3M675 163.5h4M553 164.5h2M679 164.5h4M550 165.5h3M683 165.5h4M547 166.5h3M687 166.5h4M545 167.5h2M691 167.5h4M542 168.5h3M695 168.5h4M539 169.5h3M699 169.5h6M537 170.5h2M705 170.5h6M534 171.5h3M711 171.5h4M531 172.5h3M715 172.5h6M529 173.5h2M721 173.5h8M526 174.5h3M729 174.5h16M523 175.5h3M745 175.5h8M521 176.5h2M753 176.5h8M518 177.5h3M761 177.5h8M515 178.5h3M769 178.5h8M513 179.5h2M777 179.5h8M510 180.5h3M785 180.5h8M508 181.5h2M793 181.5h8M506 182.5h2M801 182.5h16M504 183.5h2M817 183.5h8M502 184.5h2M825 184.5h8M499 185.5h3M833 185.5h8M497 186.5h2M841 186.5h56M494 187.5h3M897 187.5h8M492 188.5h2M905 188.5h8M490 189.5h2M913 189.5h8M488 190.5h2M921 190.5h8M486 191.5h2M929 191.5h6M483 192.5h3M935 192.5h4M481 193.5h2M939 193.5h3M478 194.5h3M942 194.5h3M476 195.5h2M945 195.5h2M1105 195.5h14M474 196.5h2M947 196.5h4M1097 196.5h8M1119 196.5h4M472 197.5h2M951 197.5h4M1091 197.5h6M1123 197.5h4M470 198.5h2M955 198.5h6M1087 198.5h4M1127 198.5h4M468 199.5h2M961 199.5h8M1084 199.5h3M1131 199.5h4M466 200.5h2M969 200.5h8M1082 200.5h2M1135 200.5h4M464 201.5h2M977 201.5h8M1080 201.5h2M1139 201.5h6M462 202.5h2M985 202.5h16M1078 202.5h2M1145 202.5h5M459 203.5h3M1001 203.5h16M1075 203.5h3M1150 203.5h3M457 204.5h2M1017 204.5h16M1073 204.5h2M1153 204.5h2M454 205.5h3M1033 205.5h8M1070 205.5h3M1155 205.5h3M452 206.5h2M1041 206.5h6M1065 206.5h5M1158 206.5h2M450 207.5h2M1047 207.5h4M1057 207.5h8M1160 207.5h2M448 208.5h2M1051 208.5h6M1162 208.5h2M446 209.5h2M1164 209.5h2M443 210.5h3M1166 210.5h2M441 211.5h2M1168 211.5h2M438 212.5h3M1170 212.5h2M435 213.5h3M1172 213.5h2M433 214.5h2M1174 214.5h2M430 215.5h3M1176 215.5h2M427 216.5h3M1178 216.5h2M425 217.5h2M1180 217.5h2M422 218.5h3M1182 218.5h2M419 219.5h3M1184 219.5h2M417 220.5h2M1186 220.5h2M414 221.5h3M1188 221.5h2M412 222.5h2M1190 222.5h2M410 223.5h2M1192 223.5h2M408 224.5h2M1194 224.5h2M406 225.5h2M1196 225.5h1M403 226.5h3M1197 226.5h2M401 227.5h2M1199 227.5h2M398 228.5h3M1201 228.5h1M395 229.5h3M1202 229.5h2M393 230.5h2M1204 230.5h2M390 231.5h3M1206 231.5h2M387 232.5h3M1208 232.5h2M385 233.5h2M1210 233.5h2M382 234.5h3M1212 234.5h2M380 235.5h2M1214 235.5h2M378 236.5h2M1216 236.5h2M376 237.5h2M1218 237.5h2M374 238.5h2M1220 238.5h2M371 239.5h3M1222 239.5h2M369 240.5h2M1224 240.5h2M366 241.5h3M1226 241.5h2M363 242.5h3M1228 242.5h2M359 243.5h4M1230 243.5h3M355 244.5h4M1233 244.5h2M351 245.5h4M1235 245.5h3M347 246.5h4M1238 246.5h2M343 247.5h4M1240 247.5h2M337 248.5h6M1242 248.5h2M331 249.5h6M1244 249.5h2M327 250.5h4M1246 250.5h2M321 251.5h6M1248 251.5h2M313 252.5h8M1250 252.5h2M307 253.5h6M1252 253.5h2M303 254.5h4M1254 254.5h2M297 255.5h6M1256 255.5h2M289 256.5h8M1258 256.5h2M281 257.5h8M1260 257.5h2M273 258.5h8M1262 258.5h2M265 259.5h8M1264 259.5h2M257 260.5h8M1266 260.5h2M249 261.5h8M1268 261.5h1M4 262.5h13M243 262.5h6M1269 262.5h2M17 263.5h40M239 263.5h4M1271 263.5h2M57 264.5h8M233 264.5h6M1273 264.5h1M65 265.5h8M97 265.5h46M227 265.5h6M1274 265.5h2M73 266.5h24M143 266.5h4M223 266.5h4M1276 266.5h1M147 267.5h6M217 267.5h6M1277 267.5h2M153 268.5h8M209 268.5h8M1279 268.5h2M161 269.5h48M1281 269.5h1M1282 270.5h2M1284 271.5h1M1285 272.5h2M1287 273.5h2M1289 274.5h1M1290 275.5h2M1292 276.5h1M1293 277.5h2M1295 278.5h2M1297 279.5h1M1298 280.5h2M1300 281.5h1M1301 282.5h2M1303 283.5h1M1304 284.5h1M1305 285.5h2M1307 286.5h1M1308 287.5h1M1309 288.5h2M1311 289.5h2M1313 290.5h1M1314 291.5h2M1316 292.5h1M1317 293.5h2M1319 294.5h2M1321 295.5h1M1322 296.5h2M1324 297.5h2M1326 298.5h2M1328 299.5h2M1330 300.5h2" fill="none" stroke="#ff00ff" stroke-width="1" shape-rendering="crispEdges"/>
<path d="M577 105.5h16M569 106.5h8M593 106.5h8M561 107.5h8M601 107.5h8M537 108.5h24M609 108.5h6M531 109.5h6M615 109.5h4M527 110.5h4M619 110.5h3M523 111.5h4M622 111.5h2M521 112.5h2M624 112.5h2M518 113.5h3M626 113.5h2M515 114.5h3M628 114.5h1M513 115.5h2M629 115.5h1M510 116.5h3M629 116.5h1M508 117.5h2M630 117.5h1M506 118.5h2M630 118.5h1M504 119.5h2M631 119.5h1M502 120.5h2M631 120.5h1M500 121.5h2M632 121.5h1M498 122.5h2M632 122.5h1M496 123.5h2M633 123.5h1M494 124.5h2M633 124.5h1M492 125.5h2M634 125.5h1M490 126.5h2M634 126.5h1M488 127.5h2M635 127.5h1M486 128.5h2M635 128.5h1M484 129.5h2M636 129.5h1M482 130.5h2M637 130.5h1M481 131.5h1M637 131.5h1M479 132.5h2M638 132.5h1M477 133.5h2M638 133.5h1M476 134.5h1M639 134.5h1M474 135.5h2M639 135.5h1M472 136.5h2M640 136.5h1M470 137.5h2M640 137.5h1M468 138.5h2M641 138.5h1M466 139.5h2M641 139.5h1M465 140.5h1M642 140.5h1M463 141.5h2M642 141.5h1M461 142.5h2M643 142.5h1M460 143.5h1M643 143.5h1M458 144.5h2M644 144.5h1M456 145.5h2M645 145.5h1M454 146.5h2M645 146.5h1M452 147.5h2M646 147.5h1M450 148.5h2M647 148.5h1M448 149.5h2M647 149.5h1M446 150.5h2M648 150.5h1M444 151.5h2M649 151.5h1M1011 151.5h14M442 152.5h2M649 152.5h1M1007 152.5h4M1025 152.5h5M441 153.5h1M650 153.5h1M1003 153.5h4M1030 153.5h2M439 154.5h2M651 154.5h1M999 154.5h4M1032 154.5h2M437 155.5h2M651 155.5h1M995 155.5h4M1034 155.5h2M436 156.5h1M652 156.5h1M993 156.5h2M1036 156.5h2M434 157.5h2M653 157.5h1M990 157.5h3M1038 157.5h2M432 158.5h2M653 158.5h1M985 158.5h5M1040 158.5h2M430 159.5h2M654 159.5h1M977 159.5h8M1042 159.5h2M428 160.5h2M655 160.5h1M969 160.5h8M1044 160.5h2M426 161.5h2M656 161.5h1M932 161.5h5M961 161.5h8M1046 161.5h3M424 162.5h2M656 162.5h1M930 162.5h2M937 162.5h6M955 162.5h6M1049 162.5h2M422 163.5h2M657 163.5h1M928 163.5h2M943 163.5h4M951 163.5h4M1051 163.5h14M419 164.5h3M658 164.5h1M926 164.5h2M947 164.5h4M1065 164.5h5M417 165.5h2M659 165.5h1M923 165.5h3M1070 165.5h3M414 166.5h3M659 166.5h1M921 166.5h2M1073 166.5h2M411 167.5h3M660 167.5h1M918 167.5h3M1075 167.5h3M409 168.5h2M661 168.5h1M916 168.5h2M1078 168.5h2M406 169.5h3M661 169.5h1M914 169.5h2M1080 169.5h2M403 170.5h3M662 170.5h1M912 170.5h2M1082 170.5h2M401 171.5h2M662 171.5h1M910 171.5h2M1084 171.5h1M398 172.5h3M663 172.5h1M908 172.5h2M1085 172.5h2M396 173.5h2M664 173.5h1M906 173.5h2M1087 173.5h2M394 174.5h2M664 174.5h1M905 174.5h1M1089 174.5h1M392 175.5h2M665 175.5h1M903 175.5h2M1090 175.5h2M390 176.5h2M666 176.5h1M901 176.5h2M1092 176.5h1M387 177.5h3M666 177.5h1M900 177.5h1M1093 177.5h1M385 178.5h2M667 178.5h1M898 178.5h2M1094 178.5h1M382 179.5h3M667 179.5h1M897 179.5h1M1095 179.5h2M379 180.5h3M668 180.5h1M895 180.5h2M1097 180.5h1M377 181.5h2M669 181.5h1M893 181.5h2M1098 181.5h1M374 182.5h3M669 182.5h1M892 182.5h1M1099 182.5h1M371 183.5h3M670 183.5h1M891 183.5h1M1100 183.5h5M369 184.5h2M671 184.5h1M890 184.5h1M1105 184.5h4M366 185.5h3M671 185.5h1M889 185.5h1M1109 185.5h2M363 186.5h3M672 186.5h1M887 186.5h2M1111 186.5h2M359 187.5h4M673 187.5h1M886 187.5h1M1113 187.5h1M355 188.5h4M673 188.5h1M885 188.5h1M1114 188.5h2M353 189.5h2M674 189.5h1M884 189.5h1M1116 189.5h1M350 190.5h3M675 190.5h1M883 190.5h1M1117 190.5h1M347 191.5h3M675 191.5h1M881 191.5h2M1118 191.5h1M345 192.5h2M676 192.5h1M880 192.5h1M1119 192.5h1M342 193.5h3M677 193.5h1M879 193.5h1M1120 193.5h1M339 194.5h3M678 194.5h1M877 194.5h2M1121 194.5h1M337 195.5h2M679 195.5h1M876 195.5h1M1122 195.5h1M334 196.5h3M680 196.5h1M875 196.5h1M1123 196.5h1M332 197.5h2M680 197.5h1M874 197.5h1M1124 197.5h1M330 198.5h2M681 198.5h1M873 198.5h1M1125 198.5h1M328 199.5h2M682 199.5h1M871 199.5h2M1125 199.5h1M326 200.5h2M683 200.5h1M870 200.5h1M1126 200.5h1M323 201.5h3M684 201.5h1M869 201.5h1M1127 201.5h1M321 202.5h2M685 202.5h1M868 202.5h1M1128 202.5h1M318 203.5h3M686 203.5h1M867 203.5h1M1128 203.5h1M316 204.5h2M687 204.5h1M866 204.5h1M1129 204.5h1M314 205.5h2M688 205.5h1M865 205.5h1M1130 205.5h1M312 206.5h2M688 206.5h1M864 206.5h1M1131 206.5h1M310 207.5h2M689 207.5h1M863 207.5h1M1131 207.5h1M307 208.5h3M690 208.5h1M862 208.5h1M1132 208.5h1M305 209.5h2M691 209.5h1M861 209.5h1M1133 209.5h1M302 210.5h3M692 210.5h1M860 210.5h1M1133 210.5h1M299 211.5h3M693 211.5h1M859 211.5h1M1134 211.5h1M297 212.5h2M694 212.5h1M858 212.5h1M1135 212.5h1M294 213.5h3M695 213.5h1M857 213.5h1M1135 213.5h1M291 214.5h3M696 214.5h1M856 214.5h1M1136 214.5h1M289 215.5h2M697 215.5h1M856 215.5h1M1137 215.5h1M286 216.5h3M698 216.5h1M855 216.5h1M1137 216.5h1M283 217.5h3M699 217.5h1M854 217.5h1M1138 217.5h1M281 218.5h2M700 218.5h1M853 218.5h1M1139 218.5h1M278 219.5h3M701 219.5h1M852 219.5h1M1139 219.5h1M275 220.5h3M702 220.5h1M851 220.5h1M1140 220.5h1M273 221.5h2M703 221.5h1M850 221.5h1M1141 221.5h1M270 222.5h3M704 222.5h1M849 222.5h1M1142 222.5h1M267 223.5h3M704 223.5h1M848 223.5h1M1143 223.5h1M265 224.5h2M705 224.5h1M847 224.5h1M1144 224.5h1M262 225.5h3M706 225.5h1M846 225.5h1M1144 225.5h1M259 226.5h3M707 226.5h1M845 226.5h1M1145 226.5h1M257 227.5h2M708 227.5h1M844 227.5h1M1146 227.5h1M254 228.5h3M709 228.5h1M843 228.5h1M1147 228.5h1M252 229.5h2M710 229.5h1M842 229.5h1M1148 229.5h1M250 230.5h2M711 230.5h1M841 230.5h1M1149 230.5h1M249 231.5h1M712 231.5h1M840 231.5h1M1149 231.5h1M247 232.5h2M713 232.5h1M840 232.5h1M1150 232.5h1M245 233.5h2M714 233.5h1M839 233.5h1M1150 233.5h1M244 234.5h1M715 234.5h1M838 234.5h1M1151 234.5h1M242 235.5h2M716 235.5h1M837 235.5h1M1151 235.5h1M241 236.5h1M717 236.5h1M836 236.5h1M1152 236.5h1M239 237.5h2M718 237.5h1M835 237.5h1M1152 237.5h1M237 238.5h2M719 238.5h1M834 238.5h1M1153 238.5h1M236 239.5h1M720 239.5h1M833 239.5h1M1153 239.5h1M235 240.5h1M721 240.5h1M831 240.5h2M1154 240.5h1M233 241.5h2M722 241.5h1M830 241.5h1M1154 241.5h1M232 242.5h1M723 242.5h1M829 242.5h1M1155 242.5h1M231 243.5h1M724 243.5h1M828 243.5h1M1155 243.5h1M229 244.5h2M725 244.5h1M827 244.5h1M1156 244.5h1M228 245.5h1M726 245.5h1M826 245.5h1M1156 245.5h1M227 246.5h1M727 246.5h1M825 246.5h1M1157 246.5h1M225 247.5h2M728 247.5h1M824 247.5h1M1157 247.5h1M224 248.5h1M729 248.5h1M823 248.5h1M1158 248.5h1M223 249.5h1M730 249.5h1M822 249.5h1M1158 249.5h1M221 250.5h2M731 250.5h1M821 250.5h1M1159 250.5h1M220 251.5h1M732 251.5h1M820 251.5h1M1159 251.5h1M219 252.5h1M733 252.5h1M819 252.5h1M1160 252.5h1M217 253.5h2M734 253.5h1M819 253.5h1M1160 253.5h1M216 254.5h1M735 254.5h2M818 254.5h1M1161 254.5h1M215 255.5h1M737 255.5h1M817 255.5h1M1161 255.5h1M213 256.5h2M738 256.5h1M816 256.5h1M1162 256.5h1M212 257.5h1M739 257.5h1M816 257.5h1M1162 257.5h1M210 258.5h2M740 258.5h1M815 258.5h1M1163 258.5h1M209 259.5h1M741 259.5h1M814 259.5h1M1163 259.5h1M207 260.5h2M742 260.5h1M813 260.5h1M1164 260.5h1M205 261.5h2M743 261.5h2M813 261.5h1M1164 261.5h1M204 262.5h1M745 262.5h1M812 262.5h1M1164 262.5h1M203 263.5h1M746 263.5h1M811 263.5h1M1165 263.5h1M201 264.5h2M747 264.5h1M811 264.5h1M1165 264.5h1M200 265.5h1M748 265.5h1M810 265.5h1M1166 265.5h1M199 266.5h1M749 266.5h2M810 266.5h1M1166 266.5h1M197 267.5h2M751 267.5h1M809 267.5h1M1167 267.5h1M196 268.5h1M752 268.5h1M808 268.5h1M1167 268.5h1M194 269.5h2M753 269.5h2M808 269.5h1M1168 269.5h1M193 270.5h1M755 270.5h1M807 270.5h1M1168 270.5h1M191 271.5h2M756 271.5h2M806 271.5h1M1168 271.5h1M189 272.5h2M758 272.5h2M806 272.5h1M1169 272.5h1M188 273.5h1M760 273.5h2M805 273.5h1M1169 273.5h1M4 274.5h5M186 274.5h2M762 274.5h2M805 274.5h1M1170 274.5h1M9 275.5h6M184 275.5h2M764 275.5h2M804 275.5h1M1170 275.5h1M15 276.5h4M182 276.5h2M766 276.5h2M803 276.5h1M1171 276.5h1M19 277.5h4M179 277.5h3M768 277.5h2M802 277.5h1M1171 277.5h1M23 278.5h4M177 278.5h2M770 278.5h2M802 278.5h1M1172 278.5h1M27 279.5h4M174 279.5h3M772 279.5h2M801 279.5h1M1172 279.5h1M31 280.5h4M171 280.5h3M774 280.5h2M800 280.5h1M1173 280.5h1M35 281.5h4M167 281.5h4M776 281.5h2M799 281.5h1M1173 281.5h1M39 282.5h4M161 282.5h6M778 282.5h2M798 282.5h1M1174 282.5h1M43 283.5h4M153 283.5h8M780 283.5h3M798 283.5h1M1174 283.5h1M47 284.5h4M145 284.5h8M783 284.5h4M797 284.5h1M1175 284.5h1M51 285.5h3M137 285.5h8M787 285.5h10M1175 285.5h1M54 286.5h3M129 286.5h8M1176 286.5h1M57 287.5h2M121 287.5h8M1176 287.5h1M59 288.5h4M113 288.5h8M1177 288.5h1M63 289.5h4M107 289.5h6M1177 289.5h1M67 290.5h4M103 290.5h4M1178 290.5h1M71 291.5h4M97 291.5h6M1178 291.5h1M75 292.5h22M1179 292.5h1M1179 293.5h1M1180 294.5h1M1181 295.5h1M1181 296.5h1M1182 297.5h1M1182 298.5h1M1183 299.5h1M1183 300.5h1M1184 301.5h1M1184 302.5h1M1185 303.5h1M1185 304.5h1M1186 305.5h1M1186 306.5h1M1187 307.5h1M1187 308.5h1M1188 309.5h1M1189 310.5h1M1189 311.5h1M1190 312.5h1M1190 313.5h1M1191 314.5h1M1191 315.5h1M1192 316.5h1M1192 317.5h1M1193 318.5h1M1193 319.5h1M1194 320.5h1M1194 321.5h1M1195 322.5h1M1195 323.5h1M1196 324.5h1M1197 325.5h1M1197 326.5h1M1198 327.5h1M1198 328.5h1M1199 329.5h1M1199 330.5h1M1200 331.5h1M1200 332.5h1M1201 333.5h1M1201 334.5h1M1202 335.5h1M1202 336.5h1M1203 337.5h1M1203 338.5h1M1204 339.5h1M1205 340.5h1M1205 341.5h1M1206 342.5h1M1206 343.5h1M1207 344.5h1M1207 345.5h1M1208 346.5h1M1209 347.5h1M1209 348.5h1M1210 349.5h1M1210 350.5h1M1211 351.5h1M1211 352.5h1M1212 353.5h1M1213 354.5h1M1213 355.5h1M1214 356.5h1M1215 357.5h1M1215 358.5h1M1216 359.5h1M1217 360.5h1M1217 361.5h1M1218 362.5h1M1219 363.5h1M1219 364.5h1M1220 365.5h1M1221 366.5h1M1221 367.5h1M1222 368.5h1M1223 369.5h1M1224 370.5h1M1224 371.5h1M1225 372.5h1M1226 373.5h1M1227 374.5h1M1227 375.5h1M1228 376.5h1M1229 377.5h1M1230 378.5h1M1230 379.5h1M1231 380.5h1M1232 381.5h1M1233 382.5h1M1234 383.5h1M1234 384.5h1M1235 385.5h1M1236 386.5h1M1237 387.5h1M1238 388.5h1M1239 389.5h1M1240 390.5h1M1240 391.5h1M1241 392.5h1M1242 393.5h1M1243 394.5h1M1244 395.5h1M1245 396.5h1M1246 397.5h1M1247 398.5h1M1248 399.5h1M1248 400.5h1M1249 401.5h1M1250 402.5h1M1251 403.5h1M1252 404.5h1M1253 405.5h2M1255 406.5h1M1256 407.5h1M1257 408.5h2M1259 409.5h1M1260 410.5h2M1262 411.5h2M1264 412.5h2M1266 413.5h2M1268 414.5h1M1269 415.5h2M1271 416.5h1M1272 417.5h1M1273 418.5h2M1275 419.5h1M1276 420.5h1M1277 421.5h2M1279 422.5h2M1281 423.5h1M1282 424.5h2M1284 425.5h3M1330 425.5h2M1287 426.5h4M1329 426.5h1M1291 427.5h6M1327 427.5h2M1297 428.5h8M1325 428.5h2M1305 429.5h6M1323 429.5h2M1311 430.5h4M1319 430.5h4M1315 431.5h4" fill="none" stroke="#ffa500" stroke-width="1" shape-rendering="crispEdges"/>
<g shape-rendering="crispEdges">
<rect x="4" y="308" width="1685" height="2" fill="#ff0000" />
<rect x="4" y="365" width="1685" height="2" fill="#ff0000" />
<rect x="4" y="417" width="1685" height="2" fill="#22c822" />
<rect x="4" y="483" width="1685" height="2" fill="#4169e1" />
<rect x="4" y="544" width="1685" height="2" fill="#4169e1" />
</g>
</g>
<polygon points="1346,41 1355,41 1350.5,46" fill="#708090"/>
<polygon points="7,47 14,47 10.5,51" fill="#000"/>
<text x="19.0" y="52" font-size="10" fill="#000" textLength="64.9" lengthAdjust="spacingAndGlyphs"  stroke="#000" stroke-width="0.3">CHINA300-,H4</text>
<text x="90.2" y="52" font-size="10" fill="#000" textLength="27.3" lengthAdjust="spacingAndGlyphs"  stroke="#000" stroke-width="0.3">3670.0</text>
<text x="121.3" y="52" font-size="10" fill="#000" textLength="27.4" lengthAdjust="spacingAndGlyphs"  stroke="#000" stroke-width="0.3">3726.6</text>
<text x="152.5" y="52" font-size="10" fill="#000" textLength="27.3" lengthAdjust="spacingAndGlyphs"  stroke="#000" stroke-width="0.3">3652.8</text>
<text x="183.6" y="52" font-size="10" fill="#000" textLength="27.3" lengthAdjust="spacingAndGlyphs"  stroke="#000" stroke-width="0.3">3726.4</text>
<text x="8.75" y="562" font-size="10" fill="#000" textLength="123" lengthAdjust="spacingAndGlyphs"  stroke="#000" stroke-width="0.3">MACD(12,26,9) -27.22 -44.44</text>
<text x="8.75" y="677" font-size="10" fill="#000" textLength="67" lengthAdjust="spacingAndGlyphs"  stroke="#000" stroke-width="0.3">RSI(14) 51.9614</text>
<text x="1358" y="244.7" font-size="31.5" fill="#ff1a00" textLength="234" lengthAdjust="spacing">多空转折点3650</text>
<g shape-rendering="crispEdges">
<rect x="1690" y="49" width="2" height="1" fill="#000" />
<rect x="1690" y="82" width="2" height="1" fill="#000" />
<rect x="1690" y="115" width="2" height="1" fill="#000" />
<rect x="1690" y="148" width="2" height="1" fill="#000" />
<rect x="1690" y="181" width="2" height="1" fill="#000" />
<rect x="1690" y="214" width="2" height="1" fill="#000" />
<rect x="1690" y="247" width="2" height="1" fill="#000" />
<rect x="1690" y="280" width="2" height="1" fill="#000" />
<rect x="1690" y="313" width="2" height="1" fill="#000" />
<rect x="1690" y="346" width="2" height="1" fill="#000" />
<rect x="1690" y="379" width="2" height="1" fill="#000" />
<rect x="1690" y="412" width="2" height="1" fill="#000" />
<rect x="1690" y="445" width="2" height="1" fill="#000" />
<rect x="1690" y="478" width="2" height="1" fill="#000" />
<rect x="1690" y="511" width="2" height="1" fill="#000" />
<rect x="1690" y="551" width="2" height="1" fill="#000" />
<rect x="1690" y="584" width="2" height="1" fill="#000" />
<rect x="1690" y="661" width="2" height="1" fill="#000" />
<rect x="1690" y="666" width="2" height="1" fill="#000" />
<rect x="1690" y="775" width="2" height="1" fill="#000" />
</g>
<text x="1694.8" y="53" font-size="10" fill="#000" textLength="28.4" lengthAdjust="spacingAndGlyphs"  stroke="#000" stroke-width="0.3">4260.5</text>
<text x="1694.8" y="86" font-size="10" fill="#000" textLength="28.4" lengthAdjust="spacingAndGlyphs"  stroke="#000" stroke-width="0.3">4206.5</text>
<text x="1694.8" y="119" font-size="10" fill="#000" textLength="28.4" lengthAdjust="spacingAndGlyphs"  stroke="#000" stroke-width="0.3">4151.0</text>
<text x="1694.8" y="152" font-size="10" fill="#000" textLength="28.4" lengthAdjust="spacingAndGlyphs"  stroke="#000" stroke-width="0.3">4097.0</text>
<text x="1694.8" y="185" font-size="10" fill="#000" textLength="28.4" lengthAdjust="spacingAndGlyphs"  stroke="#000" stroke-width="0.3">4041.5</text>
<text x="1694.8" y="218" font-size="10" fill="#000" textLength="28.4" lengthAdjust="spacingAndGlyphs"  stroke="#000" stroke-width="0.3">3987.5</text>
<text x="1694.8" y="251" font-size="10" fill="#000" textLength="28.4" lengthAdjust="spacingAndGlyphs"  stroke="#000" stroke-width="0.3">3932.0</text>
<text x="1694.8" y="284" font-size="10" fill="#000" textLength="28.4" lengthAdjust="spacingAndGlyphs"  stroke="#000" stroke-width="0.3">3878.0</text>
<text x="1694.8" y="317" font-size="10" fill="#000" textLength="28.4" lengthAdjust="spacingAndGlyphs"  stroke="#000" stroke-width="0.3">3824.0</text>
<text x="1694.8" y="350" font-size="10" fill="#000" textLength="28.4" lengthAdjust="spacingAndGlyphs"  stroke="#000" stroke-width="0.3">3768.5</text>
<text x="1694.8" y="383" font-size="10" fill="#000" textLength="28.4" lengthAdjust="spacingAndGlyphs"  stroke="#000" stroke-width="0.3">3714.5</text>
<text x="1694.8" y="416" font-size="10" fill="#000" textLength="28.4" lengthAdjust="spacingAndGlyphs"  stroke="#000" stroke-width="0.3">3660.0</text>
<text x="1694.8" y="449" font-size="10" fill="#000" textLength="28.4" lengthAdjust="spacingAndGlyphs"  stroke="#000" stroke-width="0.3">3605.0</text>
<text x="1694.8" y="482" font-size="10" fill="#000" textLength="28.4" lengthAdjust="spacingAndGlyphs"  stroke="#000" stroke-width="0.3">3551.0</text>
<text x="1694.8" y="515" font-size="10" fill="#000" textLength="28.4" lengthAdjust="spacingAndGlyphs"  stroke="#000" stroke-width="0.3">3495.5</text>
<rect x="1691" y="367" width="36" height="11" fill="#000" shape-rendering="crispEdges"/>
<text x="1695.3" y="376" font-size="9.8" fill="#fff" textLength="27.6" lengthAdjust="spacingAndGlyphs" >3726.4</text>
<rect x="1691" y="303" width="36" height="11" fill="#ff0000" shape-rendering="crispEdges"/>
<text x="1695.3" y="312" font-size="9.8" fill="#fff" textLength="27.6" lengthAdjust="spacingAndGlyphs" >3830.0</text>
<rect x="1691" y="360" width="36" height="11" fill="#ff0000" shape-rendering="crispEdges"/>
<text x="1695.3" y="369" font-size="9.8" fill="#fff" textLength="27.6" lengthAdjust="spacingAndGlyphs" >3735.0</text>
<rect x="1691" y="412" width="36" height="11" fill="#32cd32" shape-rendering="crispEdges"/>
<text x="1695.3" y="421" font-size="9.8" fill="#fff" textLength="27.6" lengthAdjust="spacingAndGlyphs" >3650.0</text>
<rect x="1691" y="478" width="36" height="11" fill="#4169e1" shape-rendering="crispEdges"/>
<text x="1695.3" y="487" font-size="9.8" fill="#fff" textLength="27.6" lengthAdjust="spacingAndGlyphs" >3540.0</text>
<rect x="1691" y="539" width="36" height="11" fill="#4169e1" shape-rendering="crispEdges"/>
<text x="1695.3" y="548" font-size="9.8" fill="#fff" textLength="27.6" lengthAdjust="spacingAndGlyphs" >3440.0</text>
<text x="1693" y="560" font-size="10" fill="#000" textLength="23" lengthAdjust="spacingAndGlyphs"  stroke="#000" stroke-width="0.3">58.42</text>
<text x="1693" y="588" font-size="10" fill="#000" textLength="18" lengthAdjust="spacingAndGlyphs"  stroke="#000" stroke-width="0.3">0.00</text>
<text x="1693" y="659" font-size="10" fill="#000" textLength="31" lengthAdjust="spacingAndGlyphs"  stroke="#000" stroke-width="0.3">-137.09</text>
<text x="1693" y="675" font-size="10" fill="#000" textLength="15" lengthAdjust="spacingAndGlyphs"  stroke="#000" stroke-width="0.3">100</text>
<text x="1693" y="702" font-size="10" fill="#000" textLength="10" lengthAdjust="spacingAndGlyphs"  stroke="#000" stroke-width="0.3">70</text>
<text x="1693" y="746" font-size="10" fill="#000" textLength="10" lengthAdjust="spacingAndGlyphs"  stroke="#000" stroke-width="0.3">30</text>
<text x="1693" y="773" font-size="10" fill="#000" textLength="5" lengthAdjust="spacingAndGlyphs"  stroke="#000" stroke-width="0.3">0</text>
<g shape-rendering="crispEdges">
<rect x="4" y="777" width="1" height="3" fill="#000" />
<rect x="68" y="777" width="1" height="3" fill="#000" />
<rect x="132" y="777" width="1" height="3" fill="#000" />
<rect x="196" y="777" width="1" height="3" fill="#000" />
<rect x="260" y="777" width="1" height="3" fill="#000" />
<rect x="324" y="777" width="1" height="3" fill="#000" />
<rect x="388" y="777" width="1" height="3" fill="#000" />
<rect x="452" y="777" width="1" height="3" fill="#000" />
<rect x="516" y="777" width="1" height="3" fill="#000" />
<rect x="580" y="777" width="1" height="3" fill="#000" />
<rect x="644" y="777" width="1" height="3" fill="#000" />
<rect x="708" y="777" width="1" height="3" fill="#000" />
<rect x="772" y="777" width="1" height="3" fill="#000" />
<rect x="836" y="777" width="1" height="3" fill="#000" />
<rect x="900" y="777" width="1" height="3" fill="#000" />
<rect x="964" y="777" width="1" height="3" fill="#000" />
<rect x="1028" y="777" width="1" height="3" fill="#000" />
<rect x="1092" y="777" width="1" height="3" fill="#000" />
<rect x="1156" y="777" width="1" height="3" fill="#000" />
<rect x="1220" y="777" width="1" height="3" fill="#000" />
<rect x="1284" y="777" width="1" height="3" fill="#000" />
</g>
<text x="3.5" y="789" font-size="10" fill="#000" textLength="53.1" lengthAdjust="spacingAndGlyphs"  stroke="#000" stroke-width="0.3">28 Nov 2019</text>
<text x="67.5" y="789" font-size="10" fill="#000" textLength="49.2" lengthAdjust="spacingAndGlyphs"  stroke="#000" stroke-width="0.3">4 Dec 05:00</text>
<text x="131.5" y="789" font-size="10" fill="#000" textLength="53.95" lengthAdjust="spacingAndGlyphs"  stroke="#000" stroke-width="0.3">10 Dec 05:00</text>
<text x="195.5" y="789" font-size="10" fill="#000" textLength="53.95" lengthAdjust="spacingAndGlyphs"  stroke="#000" stroke-width="0.3">16 Dec 05:00</text>
<text x="259.5" y="789" font-size="10" fill="#000" textLength="53.95" lengthAdjust="spacingAndGlyphs"  stroke="#000" stroke-width="0.3">20 Dec 05:00</text>
<text x="323.5" y="789" font-size="10" fill="#000" textLength="53.95" lengthAdjust="spacingAndGlyphs"  stroke="#000" stroke-width="0.3">26 Dec 05:00</text>
<text x="387.5" y="789" font-size="10" fill="#000" textLength="47.3" lengthAdjust="spacingAndGlyphs"  stroke="#000" stroke-width="0.3">2 Jan 05:00</text>
<text x="451.5" y="789" font-size="10" fill="#000" textLength="47.3" lengthAdjust="spacingAndGlyphs"  stroke="#000" stroke-width="0.3">8 Jan 05:00</text>
<text x="515.5" y="789" font-size="10" fill="#000" textLength="52.05" lengthAdjust="spacingAndGlyphs"  stroke="#000" stroke-width="0.3">14 Jan 05:00</text>
<text x="579.5" y="789" font-size="10" fill="#000" textLength="52.05" lengthAdjust="spacingAndGlyphs"  stroke="#000" stroke-width="0.3">20 Jan 05:00</text>
<text x="643.5" y="789" font-size="10" fill="#000" textLength="49.25" lengthAdjust="spacingAndGlyphs"  stroke="#000" stroke-width="0.3">3 Feb 05:00</text>
<text x="707.5" y="789" font-size="10" fill="#000" textLength="49.25" lengthAdjust="spacingAndGlyphs"  stroke="#000" stroke-width="0.3">7 Feb 05:00</text>
<text x="771.5" y="789" font-size="10" fill="#000" textLength="54.0" lengthAdjust="spacingAndGlyphs"  stroke="#000" stroke-width="0.3">13 Feb 05:00</text>
<text x="835.5" y="789" font-size="10" fill="#000" textLength="54.0" lengthAdjust="spacingAndGlyphs"  stroke="#000" stroke-width="0.3">19 Feb 05:00</text>
<text x="899.5" y="789" font-size="10" fill="#000" textLength="54.0" lengthAdjust="spacingAndGlyphs"  stroke="#000" stroke-width="0.3">25 Feb 05:00</text>
<text x="963.5" y="789" font-size="10" fill="#000" textLength="49.3" lengthAdjust="spacingAndGlyphs"  stroke="#000" stroke-width="0.3">2 Mar 05:00</text>
<text x="1027.5" y="789" font-size="10" fill="#000" textLength="49.3" lengthAdjust="spacingAndGlyphs"  stroke="#000" stroke-width="0.3">6 Mar 05:00</text>
<text x="1091.5" y="789" font-size="10" fill="#000" textLength="54.05" lengthAdjust="spacingAndGlyphs"  stroke="#000" stroke-width="0.3">12 Mar 05:00</text>
<text x="1155.5" y="789" font-size="10" fill="#000" textLength="54.05" lengthAdjust="spacingAndGlyphs"  stroke="#000" stroke-width="0.3">18 Mar 05:00</text>
<text x="1219.5" y="789" font-size="10" fill="#000" textLength="54.05" lengthAdjust="spacingAndGlyphs"  stroke="#000" stroke-width="0.3">24 Mar 05:00</text>
<text x="1283.5" y="789" font-size="10" fill="#000" textLength="54.05" lengthAdjust="spacingAndGlyphs"  stroke="#000" stroke-width="0.3">30 Mar 05:00</text>
<g id="toolbar">
<!-- row separators -->
<rect x="0" y="9" width="654" height="1" fill="#a0a0a0"/>
<rect x="0" y="10" width="654" height="1" fill="#ffffff"/>
<rect x="654" y="0" width="1" height="10" fill="#a0a0a0"/>
<!-- row1 icons (clipped at top) -->
<g id="row1">
<rect x="0" y="0" width="15" height="5" fill="#f8f8f8"/>
<rect x="0" y="0" width="9" height="3" fill="#ffffff"/><rect x="0" y="3" width="10" height="1" fill="#2f66cc"/><rect x="9" y="0" width="1" height="4" fill="#2f66cc"/>
<circle cx="30" cy="-2" r="5.5" fill="#cfe3f7" stroke="#8aa6c4" stroke-width="1.5"/>
<line x1="34" y1="2" x2="39" y2="6" stroke="#d9a520" stroke-width="2.2"/>
<rect x="48" y="0" width="1" height="7" fill="#909090"/>
<rect x="59" y="0" width="6" height="2" fill="#ffffff" stroke="#888" stroke-width="0.8"/>
<rect x="62" y="0" width="13" height="3" fill="#18c018"/>
<rect x="67" y="0" width="4.5" height="7" fill="#18c018"/>
<rect x="67" y="6" width="4.5" height="1" fill="#0a8a0a"/>
<rect x="79" y="0" width="3" height="1" fill="#000"/><rect x="84" y="0" width="2" height="1" fill="#333"/><rect x="88" y="0" width="2" height="1" fill="#333"/><rect x="91" y="0" width="2" height="1" fill="#222"/><rect x="95" y="0" width="4" height="1" fill="#000"/><rect x="107" y="0" width="1" height="1" fill="#2060d0"/>
<polygon points="127,0 141,0 134,5" fill="#c89020"/>
<polygon points="129,0 139,0 134,3" fill="#e8b848"/>
<rect x="154" y="-3" width="16" height="7" rx="3" fill="#c9d8ee" stroke="#5f7fb8" stroke-width="1.2"/>
<circle cx="190" cy="-3" r="7.5" fill="#dfe9f5" stroke="#9ab0d0" stroke-width="1"/>
<path d="M190 -3 L190 4.5 A7.5 7.5 0 0 0 197.3 -1 Z" fill="#3cb043"/>
<polygon points="212,0 220,0 220,4 216,4" fill="#f0d040"/>
<rect x="219" y="-3" width="6" height="7" rx="2" fill="#e02010"/>
<rect x="221" y="-2" width="2.5" height="3.5" fill="#fff"/>
<rect x="231" y="0" width="1" height="1" fill="#1e70e0"/><rect x="239" y="0" width="1" height="1" fill="#1e70e0"/><rect x="246" y="0" width="2" height="1" fill="#000"/><rect x="250" y="0" width="3" height="1" fill="#000"/><rect x="255" y="0" width="2" height="1" fill="#000"/><rect x="262" y="0" width="3" height="1" fill="#000"/><rect x="268" y="0" width="2" height="1" fill="#000"/><rect x="272" y="0" width="4" height="1" fill="#000"/>
<rect x="285" y="0" width="1" height="9" fill="#a0a0a0"/><rect x="286" y="0" width="1" height="9" fill="#fff"/>
<rect x="289" y="1" width="3" height="1" fill="#a0a0a0"/><rect x="289" y="3" width="3" height="1" fill="#a0a0a0"/><rect x="289" y="5" width="3" height="1" fill="#a0a0a0"/>
<!-- chart shift / autoscroll icons -->
<g stroke="#303030" stroke-width="1" fill="#303030">
<line x1="301" y1="2.5" x2="314" y2="2.5"/><line x1="303.5" y1="0" x2="303.5" y2="5"/><polygon points="315,2.5 312,1 312,4" stroke="none"/>
<line x1="329" y1="2.5" x2="342" y2="2.5"/><line x1="331.5" y1="0" x2="331.5" y2="5"/><polygon points="343,2.5 340,1 340,4" stroke="none"/>
<line x1="357" y1="2.5" x2="370" y2="2.5"/><line x1="359.5" y1="0" x2="359.5" y2="5"/><polygon points="371,2.5 368,1 368,4" stroke="none"/>
</g>
<rect x="309" y="0" width="1" height="1" fill="#10a010"/><rect x="337" y="0" width="1" height="1" fill="#10a010"/>
<rect x="323" y="0" width="1" height="7" fill="#a0a0a0"/>
<rect x="324" y="0" width="24" height="7" fill="#f8f8f8"/>
<g stroke="#303030" stroke-width="1" fill="#303030"><line x1="329" y1="2.5" x2="342" y2="2.5"/><line x1="331.5" y1="0" x2="331.5" y2="5"/><polygon points="343,2.5 340,1 340,4" stroke="none"/></g>
<rect x="337" y="0" width="1" height="1" fill="#10a010"/>
<rect x="380" y="0" width="1" height="7" fill="#909090"/>
<!-- magnifiers -->
<rect x="393" y="0" width="4" height="1" fill="#2a6fd6"/><line x1="398" y1="0" x2="404" y2="4" stroke="#d8b020" stroke-width="2.4"/>
<rect x="421" y="0" width="4" height="1" fill="#2a6fd6"/><line x1="426" y1="0" x2="432" y2="4" stroke="#d8b020" stroke-width="2.4"/>
<!-- tile windows icon -->
<rect x="445" y="0" width="7" height="4" fill="#e8eeff" stroke="#3a62d8" stroke-width="1"/>
<rect x="453.5" y="0" width="7" height="4" fill="#eef8e0" stroke="#58b030" stroke-width="1"/>
<rect x="470" y="0" width="1" height="7" fill="#909090"/>
<rect x="475" y="0" width="1" height="7" fill="#a0a0a0"/><rect x="476" y="0" width="24" height="7" fill="#f8f8f8"/>
<rect x="503" y="0" width="1" height="7" fill="#a0a0a0"/><rect x="504" y="0" width="24" height="7" fill="#f8f8f8"/>
<g stroke="#303030" stroke-width="1" fill="#303030">
<line x1="481" y1="2.5" x2="494" y2="2.5"/><line x1="483.500" y1="0" x2="483.5" y2="5"/><polygon points="495,2.5 492,1 492,4" stroke="none"/>
<line x1="509" y1="2.5" x2="522" y2="2.5"/><line x1="511.5" y1="0" x2="511.5" y2="5"/><polygon points="523,2.5 520,1 520,4" stroke="none"/>
</g>
<rect x="517" y="0" width="1" height="1" fill="#2060d0"/>
<rect x="532" y="0" width="1" height="7" fill="#909090"/>
<rect x="543" y="0" width="5" height="2" fill="#fff" stroke="#888" stroke-width="0.8"/>
<rect x="546" y="0" width="12" height="3" fill="#18c018"/><rect x="550" y="0" width="4.5" height="7" fill="#18c018"/>
<circle cx="588" cy="-4" r="6.5" fill="#ffffff" stroke="#1858b8" stroke-width="2.2"/>
<rect x="619" y="-4" width="15" height="6" fill="#ffffff" stroke="#3a72d0" stroke-width="1.2"/>
<rect x="623" y="0" width="8" height="1" fill="#107010"/>
</g>
<!-- top right remnants -->
<polygon points="1678,1.5 1679.5,3 1683,0 1679,0" fill="#2a62d8"/>
<path d="M1706 0 L1707.3 1 L1707.5 3.6 L1709 1.500 L1714 1.500 L1715 0 Z" fill="#e6e6fa" stroke="#707070" stroke-width="0.8"/>
<rect x="1721" y="0" width="2" height="1" fill="#222"/>
<!-- row2 -->
<g id="row2">
<g fill="#555" shape-rendering="crispEdges">
<rect x="0" y="17" width="1" height="1"/><rect x="2" y="17" width="1" height="1"/><rect x="4" y="17" width="1" height="1"/><rect x="6" y="17" width="1" height="1"/><rect x="8" y="17" width="1" height="1"/><rect x="10" y="17" width="1" height="1"/><rect x="12" y="17" width="1" height="1"/>
<rect x="0" y="21" width="1" height="1"/><rect x="2" y="21" width="1" height="1"/><rect x="4" y="21" width="1" height="1"/><rect x="6" y="21" width="1" height="1"/><rect x="8" y="21" width="1" height="1"/><rect x="10" y="21" width="1" height="1"/><rect x="12" y="21" width="1" height="1"/>
<rect x="0" y="24" width="1" height="1"/><rect x="2" y="24" width="1" height="1"/><rect x="4" y="24" width="1" height="1"/><rect x="6" y="24" width="1" height="1"/><rect x="8" y="24" width="1" height="1"/><rect x="10" y="24" width="1" height="1"/><rect x="12" y="24" width="1" height="1"/>
<rect x="0" y="28" width="1" height="1"/><rect x="2" y="28" width="1" height="1"/><rect x="4" y="28" width="1" height="1"/><rect x="6" y="28" width="1" height="1"/><rect x="8" y="28" width="1" height="1"/>
<rect x="10" y="28" width="1" height="5" fill="#333"/><rect x="10" y="28" width="4" height="1" fill="#333"/><rect x="10" y="30" width="3" height="1" fill="#333"/>
</g>
<text x="31" y="29" font-size="12.6" fill="#4a4a4a" stroke="#4a4a4a" stroke-width="0.3" textLength="7.4" lengthAdjust="spacingAndGlyphs">A</text>
<rect x="57.500" y="18.500" width="11" height="12" fill="none" stroke="#555" stroke-width="1" stroke-dasharray="1,1" shape-rendering="crispEdges"/>
<text x="59.4" y="28.600" font-size="10.5" fill="#4a4a4a" stroke="#4a4a4a" stroke-width="0.3" textLength="7.2" lengthAdjust="spacingAndGlyphs">T</text>
<rect x="56" y="17" width="2" height="2" fill="#444"/>
<!-- arrows icon -->
<polygon points="84,22.300 91.300,22.300 87.600,17.800" fill="#4a4a4a"/>
<rect x="86" y="22" width="3.5" height="1.300" fill="#4a4a4a"/>
<polygon points="91.200,26.800 98.200,26.800 94.700,31" fill="#4a4a4a"/>
<rect x="93" y="25.700" width="3.500" height="1.300" fill="#4a4a4a"/>
<path d="M86.300 25.800 L88.700 27.600 L92.800 22.500" fill="none" stroke="#4a4a4a" stroke-width="1.2"/>
<polygon points="104.500,23 110.500,23 107.500,26" fill="#000"/>
<rect x="116" y="11" width="1" height="25" fill="#a0a0a0"/><rect x="117" y="11" width="1" height="25" fill="#ffffff"/>
<g fill="#b0b0b0" shape-rendering="crispEdges">
<rect x="120" y="14" width="3" height="1"/><rect x="120" y="16" width="3" height="1"/><rect x="120" y="18" width="3" height="1"/><rect x="120" y="20" width="3" height="1"/><rect x="120" y="22" width="3" height="1"/><rect x="120" y="24" width="3" height="1"/><rect x="120" y="26" width="3" height="1"/><rect x="120" y="28" width="3" height="1"/><rect x="120" y="30" width="3" height="1"/><rect x="120" y="32" width="3" height="1"/>
</g>
<!-- H4 pressed -->
<rect x="266" y="12" width="25" height="22" fill="#f9f9f9"/>
<rect x="266" y="12" width="25" height="1" fill="#a0a0a0"/><rect x="266" y="12" width="1" height="22" fill="#a0a0a0"/>
<rect x="266" y="33" width="25" height="1" fill="#ffffff"/><rect x="290" y="12" width="1" height="22" fill="#ffffff"/>
<g font-size="10.400" fill="#333" stroke="#333" stroke-width="0.15">
<text x="131.800" y="27.500" textLength="12.4" lengthAdjust="spacingAndGlyphs">M1</text>
<text x="159.800" y="27.500" textLength="12.4" lengthAdjust="spacingAndGlyphs">M5</text>
<text x="185.800" y="27.500" textLength="17.2" lengthAdjust="spacingAndGlyphs">M15</text>
<text x="213.500" y="27.500" textLength="17.7" lengthAdjust="spacingAndGlyphs">M30</text>
<text x="244.800" y="27.500" textLength="11.4" lengthAdjust="spacingAndGlyphs">H1</text>
<text x="271.500" y="27.500" textLength="12" lengthAdjust="spacingAndGlyphs">H4</text>
<text x="300.700" y="27.500" textLength="11.4" lengthAdjust="spacingAndGlyphs">D1</text>
<text x="328" y="27.500" textLength="14.2" lengthAdjust="spacingAndGlyphs">W1</text>
<text x="354.700" y="27.500" textLength="14.6" lengthAdjust="spacingAndGlyphs">MN</text>
</g>
<rect x="377" y="11" width="1" height="25" fill="#808080"/><rect x="378" y="11" width="1" height="25" fill="#ffffff"/>
</g>
</g>

</svg></body></html>
